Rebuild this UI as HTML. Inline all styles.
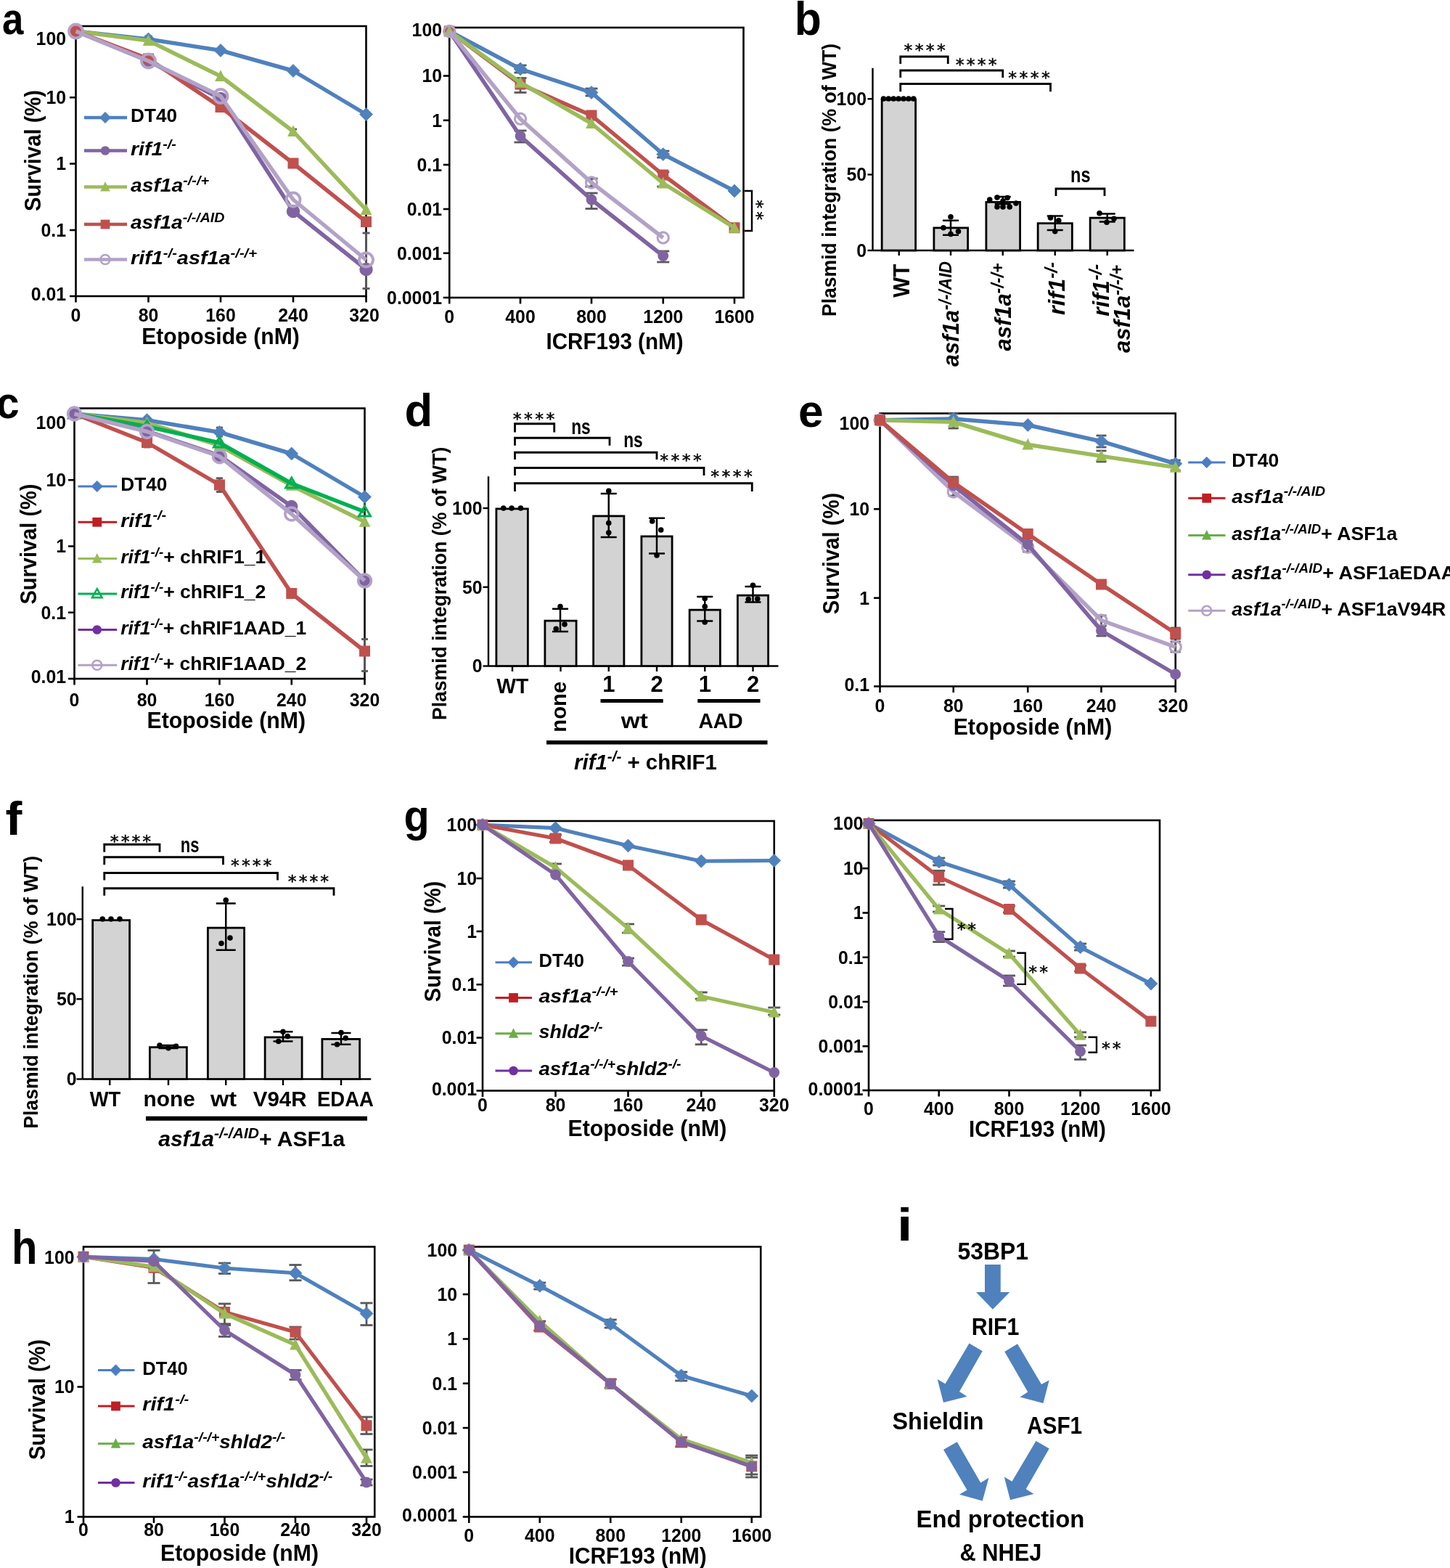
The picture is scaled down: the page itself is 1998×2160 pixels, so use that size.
<!DOCTYPE html>
<html><head><meta charset="utf-8"><title>Figure</title>
<style>html,body{margin:0;padding:0;background:#fff;overflow:hidden}svg{display:block}
</style></head>
<body>
<svg xmlns="http://www.w3.org/2000/svg" width="1998" height="2160" viewBox="0 0 1998 2160" font-family="'Liberation Sans', Arial, sans-serif">
<rect width="1998" height="2160" fill="#fff"/>
<g transform="translate(2.9 47) scale(0.86 1)"><text x="0" y="0" font-size="61.4" text-anchor="start" font-weight="bold" font-style="normal" fill="#000">a</text></g>
<rect x="104.5" y="36" width="400" height="372" fill="none" stroke="#000" stroke-width="2.6"/>
<line x1="96" y1="43" x2="104.5" y2="43" stroke="#000" stroke-width="2.6" stroke-linecap="butt"/>
<g transform="translate(91 61.84) scale(0.94 1)"><text x="0" y="0" font-size="26.4" text-anchor="end" font-weight="bold" font-style="normal" fill="#000">100</text></g>
<line x1="96" y1="134.25" x2="104.5" y2="134.25" stroke="#000" stroke-width="2.6" stroke-linecap="butt"/>
<g transform="translate(91 143.09) scale(0.94 1)"><text x="0" y="0" font-size="26.4" text-anchor="end" font-weight="bold" font-style="normal" fill="#000">10</text></g>
<line x1="96" y1="225.5" x2="104.5" y2="225.5" stroke="#000" stroke-width="2.6" stroke-linecap="butt"/>
<g transform="translate(91 234.34) scale(0.94 1)"><text x="0" y="0" font-size="26.4" text-anchor="end" font-weight="bold" font-style="normal" fill="#000">1</text></g>
<line x1="96" y1="317" x2="104.5" y2="317" stroke="#000" stroke-width="2.6" stroke-linecap="butt"/>
<g transform="translate(91 325.84) scale(0.94 1)"><text x="0" y="0" font-size="26.4" text-anchor="end" font-weight="bold" font-style="normal" fill="#000">0.1</text></g>
<line x1="96" y1="408" x2="104.5" y2="408" stroke="#000" stroke-width="2.6" stroke-linecap="butt"/>
<g transform="translate(91 414.34) scale(0.94 1)"><text x="0" y="0" font-size="26.4" text-anchor="end" font-weight="bold" font-style="normal" fill="#000">0.01</text></g>
<line x1="104.5" y1="408" x2="104.5" y2="416.5" stroke="#000" stroke-width="2.6" stroke-linecap="butt"/>
<g transform="translate(104.5 443.24) scale(0.94 1)"><text x="0" y="0" font-size="26.4" text-anchor="middle" font-weight="bold" font-style="normal" fill="#000">0</text></g>
<line x1="204.5" y1="408" x2="204.5" y2="416.5" stroke="#000" stroke-width="2.6" stroke-linecap="butt"/>
<g transform="translate(204.5 443.24) scale(0.94 1)"><text x="0" y="0" font-size="26.4" text-anchor="middle" font-weight="bold" font-style="normal" fill="#000">80</text></g>
<line x1="304" y1="408" x2="304" y2="416.5" stroke="#000" stroke-width="2.6" stroke-linecap="butt"/>
<g transform="translate(304 443.24) scale(0.94 1)"><text x="0" y="0" font-size="26.4" text-anchor="middle" font-weight="bold" font-style="normal" fill="#000">160</text></g>
<line x1="404" y1="408" x2="404" y2="416.5" stroke="#000" stroke-width="2.6" stroke-linecap="butt"/>
<g transform="translate(404 443.24) scale(0.94 1)"><text x="0" y="0" font-size="26.4" text-anchor="middle" font-weight="bold" font-style="normal" fill="#000">240</text></g>
<line x1="504.5" y1="408" x2="504.5" y2="416.5" stroke="#000" stroke-width="2.6" stroke-linecap="butt"/>
<g transform="translate(502 443.24) scale(0.94 1)"><text x="0" y="0" font-size="26.4" text-anchor="middle" font-weight="bold" font-style="normal" fill="#000">320</text></g>
<line x1="504.5" y1="321" x2="504.5" y2="397.5" stroke="#595959" stroke-width="2.8" stroke-linecap="butt"/>
<line x1="499.5" y1="321" x2="509.5" y2="321" stroke="#595959" stroke-width="2.8" stroke-linecap="butt"/>
<line x1="499.5" y1="397.5" x2="509.5" y2="397.5" stroke="#595959" stroke-width="2.8" stroke-linecap="butt"/>
<line x1="304" y1="130" x2="304" y2="150" stroke="#595959" stroke-width="2.8" stroke-linecap="butt"/>
<line x1="299" y1="130" x2="309" y2="130" stroke="#595959" stroke-width="2.8" stroke-linecap="butt"/>
<line x1="299" y1="150" x2="309" y2="150" stroke="#595959" stroke-width="2.8" stroke-linecap="butt"/>
<line x1="404" y1="178" x2="404" y2="186" stroke="#595959" stroke-width="2.8" stroke-linecap="butt"/>
<line x1="399" y1="178" x2="409" y2="178" stroke="#595959" stroke-width="2.8" stroke-linecap="butt"/>
<line x1="399" y1="186" x2="409" y2="186" stroke="#595959" stroke-width="2.8" stroke-linecap="butt"/>
<line x1="204.5" y1="50" x2="204.5" y2="58" stroke="#595959" stroke-width="2.8" stroke-linecap="butt"/>
<line x1="199.5" y1="50" x2="209.5" y2="50" stroke="#595959" stroke-width="2.8" stroke-linecap="butt"/>
<line x1="199.5" y1="58" x2="209.5" y2="58" stroke="#595959" stroke-width="2.8" stroke-linecap="butt"/>
<polyline points="104.5,43 204.5,54 304,69.5 404,97.5 504.5,157.5" fill="none" stroke="#4F81BD" stroke-width="5.5" stroke-linejoin="round"/>
<polygon points="104.5,34 113.5,43 104.5,52 95.5,43" fill="#4F81BD" stroke="#4F81BD" stroke-width="0.8" stroke-linejoin="round"/>
<polygon points="204.5,45 213.5,54 204.5,63 195.5,54" fill="#4F81BD" stroke="#4F81BD" stroke-width="0.8" stroke-linejoin="round"/>
<polygon points="304,60.5 313,69.5 304,78.5 295,69.5" fill="#4F81BD" stroke="#4F81BD" stroke-width="0.8" stroke-linejoin="round"/>
<polygon points="404,88.5 413,97.5 404,106.5 395,97.5" fill="#4F81BD" stroke="#4F81BD" stroke-width="0.8" stroke-linejoin="round"/>
<polygon points="504.5,148.5 513.5,157.5 504.5,166.5 495.5,157.5" fill="#4F81BD" stroke="#4F81BD" stroke-width="0.8" stroke-linejoin="round"/>
<polyline points="104.5,43 204.5,84 304,136 404,291 504.5,371" fill="none" stroke="#8064A2" stroke-width="5.5" stroke-linejoin="round"/>
<circle cx="104.5" cy="43" r="9.25" fill="#8064A2"/>
<circle cx="204.5" cy="84" r="9.25" fill="#8064A2"/>
<circle cx="304" cy="136" r="9.25" fill="#8064A2"/>
<circle cx="404" cy="291" r="9.25" fill="#8064A2"/>
<circle cx="504.5" cy="371" r="9.25" fill="#8064A2"/>
<polyline points="104.5,43 204.5,56 304,105 404,181 504.5,289" fill="none" stroke="#9BBB59" stroke-width="5.5" stroke-linejoin="round"/>
<polygon points="104.5,34.31 112.4,49.95 96.6,49.95" fill="#9BBB59"/>
<polygon points="204.5,47.31 212.4,62.95 196.6,62.95" fill="#9BBB59"/>
<polygon points="304,96.31 311.9,111.95 296.1,111.95" fill="#9BBB59"/>
<polygon points="404,172.31 411.9,187.95 396.1,187.95" fill="#9BBB59"/>
<polygon points="504.5,280.31 512.4,295.95 496.6,295.95" fill="#9BBB59"/>
<polyline points="104.5,43 204.5,81 304,147.5 404,225 504.5,305.5" fill="none" stroke="#C0504D" stroke-width="5.5" stroke-linejoin="round"/>
<rect x="97" y="35.5" width="15" height="15" fill="#C0504D"/>
<rect x="197" y="73.5" width="15" height="15" fill="#C0504D"/>
<rect x="296.5" y="140" width="15" height="15" fill="#C0504D"/>
<rect x="396.5" y="217.5" width="15" height="15" fill="#C0504D"/>
<rect x="497" y="298" width="15" height="15" fill="#C0504D"/>
<polyline points="104.5,43 204.5,84 304,132.5 404,275 504.5,358" fill="none" stroke="#B3A2C7" stroke-width="5.5" stroke-linejoin="round"/>
<circle cx="104.5" cy="43" r="9.5" fill="none" stroke="#B3A2C7" stroke-width="3.88"/>
<circle cx="204.5" cy="84" r="9.5" fill="none" stroke="#B3A2C7" stroke-width="3.88"/>
<circle cx="304" cy="132.5" r="9.5" fill="none" stroke="#B3A2C7" stroke-width="3.88"/>
<circle cx="404" cy="275" r="9.5" fill="none" stroke="#B3A2C7" stroke-width="3.88"/>
<circle cx="504.5" cy="358" r="9.5" fill="none" stroke="#B3A2C7" stroke-width="3.88"/>
<line x1="116" y1="162" x2="175" y2="162" stroke="#4F81BD" stroke-width="4.5" stroke-linecap="butt"/>
<polygon points="145,154.35 152.65,162 145,169.65 137.35,162" fill="#4F81BD" stroke="#4F81BD" stroke-width="0.68" stroke-linejoin="round"/>
<text x="180" y="168.25" font-size="25" text-anchor="start" font-weight="bold" font-style="normal" fill="#000" textLength="64" lengthAdjust="spacingAndGlyphs">DT40</text>
<line x1="116" y1="207.5" x2="175" y2="207.5" stroke="#8064A2" stroke-width="4.5" stroke-linecap="butt"/>
<circle cx="145" cy="207.5" r="6.29" fill="#8064A2"/>
<text x="180" y="213.75" font-size="25" text-anchor="start" font-weight="bold" font-style="normal" fill="#000" textLength="63" lengthAdjust="spacingAndGlyphs"><tspan font-style="italic">rif1</tspan><tspan font-style="italic" font-size="17.5" dy="-9.25">-/-</tspan></text>
<line x1="116" y1="257.5" x2="175" y2="257.5" stroke="#9BBB59" stroke-width="4.5" stroke-linecap="butt"/>
<polygon points="145,250.11 151.72,263.41 138.28,263.41" fill="#9BBB59"/>
<text x="180" y="263.75" font-size="25" text-anchor="start" font-weight="bold" font-style="normal" fill="#000" textLength="108" lengthAdjust="spacingAndGlyphs"><tspan font-style="italic">asf1a</tspan><tspan font-style="italic" font-size="17.5" dy="-9.25">-/-/+</tspan></text>
<line x1="116" y1="309" x2="175" y2="309" stroke="#C0504D" stroke-width="4.5" stroke-linecap="butt"/>
<rect x="138.62" y="302.62" width="12.75" height="12.75" fill="#C0504D"/>
<text x="180" y="315.25" font-size="25" text-anchor="start" font-weight="bold" font-style="normal" fill="#000" textLength="129.5" lengthAdjust="spacingAndGlyphs"><tspan font-style="italic">asf1a</tspan><tspan font-style="italic" font-size="17.5" dy="-9.25">-/-/AID</tspan></text>
<line x1="116" y1="357.5" x2="175" y2="357.5" stroke="#B3A2C7" stroke-width="4.5" stroke-linecap="butt"/>
<circle cx="145" cy="357.5" r="6.46" fill="none" stroke="#B3A2C7" stroke-width="2.63"/>
<text x="180" y="363.75" font-size="25" text-anchor="start" font-weight="bold" font-style="normal" fill="#000" textLength="174" lengthAdjust="spacingAndGlyphs"><tspan font-style="italic">rif1</tspan><tspan font-style="italic" font-size="17.5" dy="-9.25">-/-</tspan><tspan font-style="italic" dy="9.25">asf1a</tspan><tspan font-style="italic" font-size="17.5" dy="-9.25">-/-/+</tspan></text>
<text x="304" y="474" font-size="32" text-anchor="middle" font-weight="bold" font-style="normal" fill="#000" textLength="217.5" lengthAdjust="spacingAndGlyphs">Etoposide (nM)</text>
<text x="56" y="207.5" font-size="32" text-anchor="middle" font-weight="bold" font-style="normal" fill="#000" textLength="167" lengthAdjust="spacingAndGlyphs" transform="rotate(-90 56 207.5)">Survival (%)</text>
<rect x="619.25" y="38" width="405.25" height="372" fill="none" stroke="#000" stroke-width="2.6"/>
<line x1="610.75" y1="43.3" x2="619.25" y2="43.3" stroke="#000" stroke-width="2.6" stroke-linecap="butt"/>
<g transform="translate(609 49.84) scale(0.94 1)"><text x="0" y="0" font-size="26.4" text-anchor="end" font-weight="bold" font-style="normal" fill="#000">100</text></g>
<line x1="610.75" y1="104.5" x2="619.25" y2="104.5" stroke="#000" stroke-width="2.6" stroke-linecap="butt"/>
<g transform="translate(609 113.34) scale(0.94 1)"><text x="0" y="0" font-size="26.4" text-anchor="end" font-weight="bold" font-style="normal" fill="#000">10</text></g>
<line x1="610.75" y1="165.75" x2="619.25" y2="165.75" stroke="#000" stroke-width="2.6" stroke-linecap="butt"/>
<g transform="translate(609 174.59) scale(0.94 1)"><text x="0" y="0" font-size="26.4" text-anchor="end" font-weight="bold" font-style="normal" fill="#000">1</text></g>
<line x1="610.75" y1="227" x2="619.25" y2="227" stroke="#000" stroke-width="2.6" stroke-linecap="butt"/>
<g transform="translate(609 235.84) scale(0.94 1)"><text x="0" y="0" font-size="26.4" text-anchor="end" font-weight="bold" font-style="normal" fill="#000">0.1</text></g>
<line x1="610.75" y1="288" x2="619.25" y2="288" stroke="#000" stroke-width="2.6" stroke-linecap="butt"/>
<g transform="translate(609 296.84) scale(0.94 1)"><text x="0" y="0" font-size="26.4" text-anchor="end" font-weight="bold" font-style="normal" fill="#000">0.01</text></g>
<line x1="610.75" y1="348.75" x2="619.25" y2="348.75" stroke="#000" stroke-width="2.6" stroke-linecap="butt"/>
<g transform="translate(609 357.59) scale(0.94 1)"><text x="0" y="0" font-size="26.4" text-anchor="end" font-weight="bold" font-style="normal" fill="#000">0.001</text></g>
<line x1="610.75" y1="410" x2="619.25" y2="410" stroke="#000" stroke-width="2.6" stroke-linecap="butt"/>
<g transform="translate(609 418.84) scale(0.94 1)"><text x="0" y="0" font-size="26.4" text-anchor="end" font-weight="bold" font-style="normal" fill="#000">0.0001</text></g>
<line x1="619.25" y1="410" x2="619.25" y2="418.5" stroke="#000" stroke-width="2.6" stroke-linecap="butt"/>
<g transform="translate(619.25 444.84) scale(0.94 1)"><text x="0" y="0" font-size="26.4" text-anchor="middle" font-weight="bold" font-style="normal" fill="#000">0</text></g>
<line x1="717" y1="410" x2="717" y2="418.5" stroke="#000" stroke-width="2.6" stroke-linecap="butt"/>
<g transform="translate(717 444.84) scale(0.94 1)"><text x="0" y="0" font-size="26.4" text-anchor="middle" font-weight="bold" font-style="normal" fill="#000">400</text></g>
<line x1="815" y1="410" x2="815" y2="418.5" stroke="#000" stroke-width="2.6" stroke-linecap="butt"/>
<g transform="translate(815 444.84) scale(0.94 1)"><text x="0" y="0" font-size="26.4" text-anchor="middle" font-weight="bold" font-style="normal" fill="#000">800</text></g>
<line x1="913.75" y1="410" x2="913.75" y2="418.5" stroke="#000" stroke-width="2.6" stroke-linecap="butt"/>
<g transform="translate(913.75 444.84) scale(0.94 1)"><text x="0" y="0" font-size="26.4" text-anchor="middle" font-weight="bold" font-style="normal" fill="#000">1200</text></g>
<line x1="1012" y1="410" x2="1012" y2="418.5" stroke="#000" stroke-width="2.6" stroke-linecap="butt"/>
<g transform="translate(1012 444.84) scale(0.94 1)"><text x="0" y="0" font-size="26.4" text-anchor="middle" font-weight="bold" font-style="normal" fill="#000">1600</text></g>
<line x1="717" y1="180" x2="717" y2="196" stroke="#595959" stroke-width="2.8" stroke-linecap="butt"/>
<line x1="708.5" y1="180" x2="725.5" y2="180" stroke="#595959" stroke-width="2.8" stroke-linecap="butt"/>
<line x1="708.5" y1="196" x2="725.5" y2="196" stroke="#595959" stroke-width="2.8" stroke-linecap="butt"/>
<line x1="815" y1="266" x2="815" y2="287.5" stroke="#595959" stroke-width="2.8" stroke-linecap="butt"/>
<line x1="806.5" y1="266" x2="823.5" y2="266" stroke="#595959" stroke-width="2.8" stroke-linecap="butt"/>
<line x1="806.5" y1="287.5" x2="823.5" y2="287.5" stroke="#595959" stroke-width="2.8" stroke-linecap="butt"/>
<line x1="913.75" y1="346" x2="913.75" y2="361" stroke="#595959" stroke-width="2.8" stroke-linecap="butt"/>
<line x1="905.25" y1="346" x2="922.25" y2="346" stroke="#595959" stroke-width="2.8" stroke-linecap="butt"/>
<line x1="905.25" y1="361" x2="922.25" y2="361" stroke="#595959" stroke-width="2.8" stroke-linecap="butt"/>
<line x1="717" y1="107.5" x2="717" y2="127.5" stroke="#595959" stroke-width="2.8" stroke-linecap="butt"/>
<line x1="708.5" y1="107.5" x2="725.5" y2="107.5" stroke="#595959" stroke-width="2.8" stroke-linecap="butt"/>
<line x1="708.5" y1="127.5" x2="725.5" y2="127.5" stroke="#595959" stroke-width="2.8" stroke-linecap="butt"/>
<line x1="717" y1="90" x2="717" y2="100" stroke="#595959" stroke-width="2.8" stroke-linecap="butt"/>
<line x1="708.5" y1="90" x2="725.5" y2="90" stroke="#595959" stroke-width="2.8" stroke-linecap="butt"/>
<line x1="708.5" y1="100" x2="725.5" y2="100" stroke="#595959" stroke-width="2.8" stroke-linecap="butt"/>
<line x1="815" y1="246" x2="815" y2="257" stroke="#595959" stroke-width="2.8" stroke-linecap="butt"/>
<line x1="806.5" y1="246" x2="823.5" y2="246" stroke="#595959" stroke-width="2.8" stroke-linecap="butt"/>
<line x1="806.5" y1="257" x2="823.5" y2="257" stroke="#595959" stroke-width="2.8" stroke-linecap="butt"/>
<line x1="815" y1="122" x2="815" y2="132" stroke="#595959" stroke-width="2.8" stroke-linecap="butt"/>
<line x1="806.5" y1="122" x2="823.5" y2="122" stroke="#595959" stroke-width="2.8" stroke-linecap="butt"/>
<line x1="806.5" y1="132" x2="823.5" y2="132" stroke="#595959" stroke-width="2.8" stroke-linecap="butt"/>
<line x1="913.75" y1="208" x2="913.75" y2="217" stroke="#595959" stroke-width="2.8" stroke-linecap="butt"/>
<line x1="905.25" y1="208" x2="922.25" y2="208" stroke="#595959" stroke-width="2.8" stroke-linecap="butt"/>
<line x1="905.25" y1="217" x2="922.25" y2="217" stroke="#595959" stroke-width="2.8" stroke-linecap="butt"/>
<line x1="913.75" y1="237" x2="913.75" y2="257" stroke="#595959" stroke-width="2.8" stroke-linecap="butt"/>
<line x1="905.25" y1="237" x2="922.25" y2="237" stroke="#595959" stroke-width="2.8" stroke-linecap="butt"/>
<line x1="905.25" y1="257" x2="922.25" y2="257" stroke="#595959" stroke-width="2.8" stroke-linecap="butt"/>
<polyline points="619.25,43 717,95 815,127.5 913.75,212.5 1012,263" fill="none" stroke="#4F81BD" stroke-width="5.5" stroke-linejoin="round"/>
<polygon points="619.25,34 628.25,43 619.25,52 610.25,43" fill="#4F81BD" stroke="#4F81BD" stroke-width="0.8" stroke-linejoin="round"/>
<polygon points="717,86 726,95 717,104 708,95" fill="#4F81BD" stroke="#4F81BD" stroke-width="0.8" stroke-linejoin="round"/>
<polygon points="815,118.5 824,127.5 815,136.5 806,127.5" fill="#4F81BD" stroke="#4F81BD" stroke-width="0.8" stroke-linejoin="round"/>
<polygon points="913.75,203.5 922.75,212.5 913.75,221.5 904.75,212.5" fill="#4F81BD" stroke="#4F81BD" stroke-width="0.8" stroke-linejoin="round"/>
<polygon points="1012,254 1021,263 1012,272 1003,263" fill="#4F81BD" stroke="#4F81BD" stroke-width="0.8" stroke-linejoin="round"/>
<polyline points="619.25,43 717,187.5 815,275 913.75,352.5" fill="none" stroke="#8064A2" stroke-width="5.5" stroke-linejoin="round"/>
<circle cx="619.25" cy="43" r="7.4" fill="#8064A2"/>
<circle cx="717" cy="187.5" r="7.4" fill="#8064A2"/>
<circle cx="815" cy="275" r="7.4" fill="#8064A2"/>
<circle cx="913.75" cy="352.5" r="7.4" fill="#8064A2"/>
<polyline points="619.25,43 717,116 815,159 913.75,241 1012,313.75" fill="none" stroke="#C0504D" stroke-width="5.5" stroke-linejoin="round"/>
<rect x="611.75" y="35.5" width="15" height="15" fill="#C0504D"/>
<rect x="709.5" y="108.5" width="15" height="15" fill="#C0504D"/>
<rect x="807.5" y="151.5" width="15" height="15" fill="#C0504D"/>
<rect x="906.25" y="233.5" width="15" height="15" fill="#C0504D"/>
<rect x="1004.5" y="306.25" width="15" height="15" fill="#C0504D"/>
<polyline points="619.25,43 717,113.75 815,170 913.75,252.5 1012,313.75" fill="none" stroke="#9BBB59" stroke-width="5.5" stroke-linejoin="round"/>
<polygon points="619.25,34.31 627.15,49.95 611.35,49.95" fill="#9BBB59"/>
<polygon points="717,105.06 724.9,120.7 709.1,120.7" fill="#9BBB59"/>
<polygon points="815,161.31 822.9,176.95 807.1,176.95" fill="#9BBB59"/>
<polygon points="913.75,243.81 921.65,259.45 905.85,259.45" fill="#9BBB59"/>
<polygon points="1012,305.06 1019.9,320.7 1004.1,320.7" fill="#9BBB59"/>
<polyline points="619.25,43 717,163.75 815,251.5 913.75,327.5" fill="none" stroke="#B3A2C7" stroke-width="5.5" stroke-linejoin="round"/>
<circle cx="619.25" cy="43" r="7.6" fill="none" stroke="#B3A2C7" stroke-width="3.1"/>
<circle cx="717" cy="163.75" r="7.6" fill="none" stroke="#B3A2C7" stroke-width="3.1"/>
<circle cx="815" cy="251.5" r="7.6" fill="none" stroke="#B3A2C7" stroke-width="3.1"/>
<circle cx="913.75" cy="327.5" r="7.6" fill="none" stroke="#B3A2C7" stroke-width="3.1"/>
<polyline points="1026,263 1036,263 1036,318 1026,318" fill="none" stroke="#000" stroke-width="2.4" stroke-linejoin="miter"/>
<g transform="translate(1035.31 275.29) rotate(90)"><text x="0" y="0" font-size="23.7" font-family="DejaVu Sans, sans-serif" font-weight="normal" letter-spacing="4.22" stroke="#000" stroke-width="0.45">**</text></g>
<text x="752.5" y="481" font-size="32" text-anchor="start" font-weight="bold" font-style="normal" fill="#000" textLength="189" lengthAdjust="spacingAndGlyphs">ICRF193 (nM)</text>
<g transform="translate(1094.8 47.5) scale(0.93 1)"><text x="0" y="0" font-size="65.3" text-anchor="start" font-weight="bold" font-style="normal" fill="#000">b</text></g>
<line x1="1202.5" y1="93.75" x2="1202.5" y2="345" stroke="#000" stroke-width="2.4" stroke-linecap="butt"/>
<line x1="1202.5" y1="345" x2="1562.5" y2="345" stroke="#000" stroke-width="2.4" stroke-linecap="butt"/>
<line x1="1195.5" y1="136.25" x2="1202.5" y2="136.25" stroke="#000" stroke-width="2.4" stroke-linecap="butt"/>
<g transform="translate(1194 145.09) scale(0.94 1)"><text x="0" y="0" font-size="26.4" text-anchor="end" font-weight="bold" font-style="normal" fill="#000">100</text></g>
<line x1="1195.5" y1="240.5" x2="1202.5" y2="240.5" stroke="#000" stroke-width="2.4" stroke-linecap="butt"/>
<g transform="translate(1194 249.34) scale(0.94 1)"><text x="0" y="0" font-size="26.4" text-anchor="end" font-weight="bold" font-style="normal" fill="#000">50</text></g>
<line x1="1195.5" y1="345" x2="1202.5" y2="345" stroke="#000" stroke-width="2.4" stroke-linecap="butt"/>
<g transform="translate(1194 353.84) scale(0.94 1)"><text x="0" y="0" font-size="26.4" text-anchor="end" font-weight="bold" font-style="normal" fill="#000">0</text></g>
<rect x="1215.15" y="137.15" width="46.45" height="207.85" fill="#D3D3D3" stroke="#000" stroke-width="2.8"/>
<rect x="1286.9" y="313.9" width="46.7" height="31.1" fill="#D3D3D3" stroke="#000" stroke-width="2.8"/>
<rect x="1358.9" y="278.4" width="46.7" height="66.6" fill="#D3D3D3" stroke="#000" stroke-width="2.8"/>
<rect x="1430.15" y="307.65" width="47.2" height="37.35" fill="#D3D3D3" stroke="#000" stroke-width="2.8"/>
<rect x="1502.15" y="300.15" width="47.2" height="44.85" fill="#D3D3D3" stroke="#000" stroke-width="2.8"/>
<line x1="1238.75" y1="345" x2="1238.75" y2="352" stroke="#000" stroke-width="2.4" stroke-linecap="butt"/>
<line x1="1310" y1="345" x2="1310" y2="352" stroke="#000" stroke-width="2.4" stroke-linecap="butt"/>
<line x1="1381.75" y1="345" x2="1381.75" y2="352" stroke="#000" stroke-width="2.4" stroke-linecap="butt"/>
<line x1="1453.75" y1="345" x2="1453.75" y2="352" stroke="#000" stroke-width="2.4" stroke-linecap="butt"/>
<line x1="1525.75" y1="345" x2="1525.75" y2="352" stroke="#000" stroke-width="2.4" stroke-linecap="butt"/>
<line x1="1310" y1="303.75" x2="1310" y2="323.75" stroke="#000" stroke-width="2.5" stroke-linecap="butt"/>
<line x1="1299" y1="303.75" x2="1321" y2="303.75" stroke="#000" stroke-width="2.5" stroke-linecap="butt"/>
<line x1="1299" y1="323.75" x2="1321" y2="323.75" stroke="#000" stroke-width="2.5" stroke-linecap="butt"/>
<line x1="1381.75" y1="271" x2="1381.75" y2="281" stroke="#000" stroke-width="2.5" stroke-linecap="butt"/>
<line x1="1370.75" y1="271" x2="1392.75" y2="271" stroke="#000" stroke-width="2.5" stroke-linecap="butt"/>
<line x1="1370.75" y1="281" x2="1392.75" y2="281" stroke="#000" stroke-width="2.5" stroke-linecap="butt"/>
<line x1="1453.75" y1="297.5" x2="1453.75" y2="317" stroke="#000" stroke-width="2.5" stroke-linecap="butt"/>
<line x1="1442.75" y1="297.5" x2="1464.75" y2="297.5" stroke="#000" stroke-width="2.5" stroke-linecap="butt"/>
<line x1="1442.75" y1="317" x2="1464.75" y2="317" stroke="#000" stroke-width="2.5" stroke-linecap="butt"/>
<line x1="1525.75" y1="294.5" x2="1525.75" y2="305.5" stroke="#000" stroke-width="2.5" stroke-linecap="butt"/>
<line x1="1514.75" y1="294.5" x2="1536.75" y2="294.5" stroke="#000" stroke-width="2.5" stroke-linecap="butt"/>
<line x1="1514.75" y1="305.5" x2="1536.75" y2="305.5" stroke="#000" stroke-width="2.5" stroke-linecap="butt"/>
<circle cx="1217.5" cy="136" r="3.8" fill="#000"/>
<circle cx="1224.38" cy="136" r="3.8" fill="#000"/>
<circle cx="1231.25" cy="136" r="3.8" fill="#000"/>
<circle cx="1238.12" cy="136" r="3.8" fill="#000"/>
<circle cx="1245" cy="136" r="3.8" fill="#000"/>
<circle cx="1251.88" cy="136" r="3.8" fill="#000"/>
<circle cx="1258.75" cy="136" r="3.8" fill="#000"/>
<circle cx="1310" cy="298.75" r="3.8" fill="#000"/>
<circle cx="1300" cy="313.75" r="3.8" fill="#000"/>
<circle cx="1320.5" cy="318.75" r="3.8" fill="#000"/>
<circle cx="1310" cy="322.5" r="3.8" fill="#000"/>
<circle cx="1363.75" cy="275" r="3.8" fill="#000"/>
<circle cx="1374" cy="285" r="3.8" fill="#000"/>
<circle cx="1382" cy="277" r="3.8" fill="#000"/>
<circle cx="1388" cy="272.5" r="3.8" fill="#000"/>
<circle cx="1374" cy="272" r="3.8" fill="#000"/>
<circle cx="1382" cy="285" r="3.8" fill="#000"/>
<circle cx="1391.25" cy="285" r="3.8" fill="#000"/>
<circle cx="1400" cy="280" r="3.8" fill="#000"/>
<circle cx="1447.5" cy="300" r="3.8" fill="#000"/>
<circle cx="1458.75" cy="303.75" r="3.8" fill="#000"/>
<circle cx="1453.75" cy="318.75" r="3.8" fill="#000"/>
<circle cx="1515" cy="293.75" r="3.8" fill="#000"/>
<circle cx="1535" cy="301.25" r="3.8" fill="#000"/>
<circle cx="1525" cy="306.25" r="3.8" fill="#000"/>
<polyline points="1240.75,88 1240.75,78 1306.25,78 1306.25,88" fill="none" stroke="#000" stroke-width="2.8" stroke-linejoin="miter"/>
<text x="1245.49" y="76.69" font-size="23.7" font-family="DejaVu Sans, sans-serif" font-weight="normal" letter-spacing="3.34" stroke="#000" stroke-width="0.45">****</text>
<polyline points="1240.75,107 1240.75,97 1381.75,97 1381.75,107" fill="none" stroke="#000" stroke-width="2.8" stroke-linejoin="miter"/>
<text x="1316.79" y="96.79" font-size="23.7" font-family="DejaVu Sans, sans-serif" font-weight="normal" letter-spacing="3.17" stroke="#000" stroke-width="0.45">****</text>
<polyline points="1240.75,126.25 1240.75,115.5 1447.5,115.5 1447.5,126.25" fill="none" stroke="#000" stroke-width="2.8" stroke-linejoin="miter"/>
<text x="1389.29" y="115.19" font-size="23.7" font-family="DejaVu Sans, sans-serif" font-weight="normal" letter-spacing="3.42" stroke="#000" stroke-width="0.45">****</text>
<polyline points="1455,270 1455,260 1522,260 1522,270" fill="none" stroke="#000" stroke-width="2.8" stroke-linejoin="miter"/>
<text x="1488.75" y="251.25" font-size="29" text-anchor="middle" font-weight="bold" font-style="normal" fill="#000" textLength="27.5" lengthAdjust="spacingAndGlyphs">ns</text>
<text x="1151.8" y="248" font-size="27.8" text-anchor="middle" font-weight="bold" font-style="normal" fill="#000" textLength="376" lengthAdjust="spacingAndGlyphs" transform="rotate(-90 1151.8 248)">Plasmid integration (% of WT)</text>
<text x="1252.5" y="363.75" font-size="31" text-anchor="end" font-weight="bold" font-style="normal" fill="#000" textLength="46" lengthAdjust="spacingAndGlyphs" transform="rotate(-90 1252.5 363.75)">WT</text>
<text x="1320.5" y="360" font-size="31" text-anchor="end" font-weight="bold" font-style="normal" fill="#000" textLength="145" lengthAdjust="spacingAndGlyphs" transform="rotate(-90 1320.5 360)"><tspan font-style="italic">asf1a</tspan><tspan font-style="italic" font-size="23.25" dy="-9.61">-/-/AID</tspan></text>
<text x="1393" y="362.5" font-size="31" text-anchor="end" font-weight="bold" font-style="normal" fill="#000" textLength="121" lengthAdjust="spacingAndGlyphs" transform="rotate(-90 1393 362.5)"><tspan font-style="italic">asf1a</tspan><tspan font-style="italic" font-size="23.25" dy="-9.61">-/-/+</tspan></text>
<text x="1466.5" y="361" font-size="31" text-anchor="end" font-weight="bold" font-style="normal" fill="#000" textLength="73" lengthAdjust="spacingAndGlyphs" transform="rotate(-90 1466.5 361)"><tspan font-style="italic">rif1</tspan><tspan font-style="italic" font-size="23.25" dy="-9.61">-/-</tspan></text>
<text x="1528" y="363.75" font-size="31" text-anchor="end" font-weight="bold" font-style="normal" fill="#000" textLength="72" lengthAdjust="spacingAndGlyphs" transform="rotate(-90 1528 363.75)"><tspan font-style="italic">rif1</tspan><tspan font-style="italic" font-size="23.25" dy="-9.61">-/-</tspan></text>
<text x="1557" y="365" font-size="31" text-anchor="end" font-weight="bold" font-style="normal" fill="#000" textLength="121" lengthAdjust="spacingAndGlyphs" transform="rotate(-90 1557 365)"><tspan font-style="italic">asf1a</tspan><tspan font-style="italic" font-size="23.25" dy="-9.61">-/-/+</tspan></text>
<g transform="translate(-5.3 575.5) scale(0.93 1)"><text x="0" y="0" font-size="61.6" text-anchor="start" font-weight="bold" font-style="normal" fill="#000">c</text></g>
<rect x="102.5" y="562.5" width="400" height="372.5" fill="none" stroke="#000" stroke-width="2.6"/>
<line x1="94" y1="570" x2="102.5" y2="570" stroke="#000" stroke-width="2.6" stroke-linecap="butt"/>
<g transform="translate(91 591.34) scale(0.94 1)"><text x="0" y="0" font-size="26.4" text-anchor="end" font-weight="bold" font-style="normal" fill="#000">100</text></g>
<line x1="94" y1="661.25" x2="102.5" y2="661.25" stroke="#000" stroke-width="2.6" stroke-linecap="butt"/>
<g transform="translate(91 670.09) scale(0.94 1)"><text x="0" y="0" font-size="26.4" text-anchor="end" font-weight="bold" font-style="normal" fill="#000">10</text></g>
<line x1="94" y1="752.5" x2="102.5" y2="752.5" stroke="#000" stroke-width="2.6" stroke-linecap="butt"/>
<g transform="translate(91 761.34) scale(0.94 1)"><text x="0" y="0" font-size="26.4" text-anchor="end" font-weight="bold" font-style="normal" fill="#000">1</text></g>
<line x1="94" y1="843.75" x2="102.5" y2="843.75" stroke="#000" stroke-width="2.6" stroke-linecap="butt"/>
<g transform="translate(91 852.59) scale(0.94 1)"><text x="0" y="0" font-size="26.4" text-anchor="end" font-weight="bold" font-style="normal" fill="#000">0.1</text></g>
<line x1="94" y1="935" x2="102.5" y2="935" stroke="#000" stroke-width="2.6" stroke-linecap="butt"/>
<g transform="translate(91 940.84) scale(0.94 1)"><text x="0" y="0" font-size="26.4" text-anchor="end" font-weight="bold" font-style="normal" fill="#000">0.01</text></g>
<line x1="102.5" y1="935" x2="102.5" y2="943.5" stroke="#000" stroke-width="2.6" stroke-linecap="butt"/>
<g transform="translate(102.5 972.59) scale(0.94 1)"><text x="0" y="0" font-size="26.4" text-anchor="middle" font-weight="bold" font-style="normal" fill="#000">0</text></g>
<line x1="202.5" y1="935" x2="202.5" y2="943.5" stroke="#000" stroke-width="2.6" stroke-linecap="butt"/>
<g transform="translate(202.5 972.59) scale(0.94 1)"><text x="0" y="0" font-size="26.4" text-anchor="middle" font-weight="bold" font-style="normal" fill="#000">80</text></g>
<line x1="302.5" y1="935" x2="302.5" y2="943.5" stroke="#000" stroke-width="2.6" stroke-linecap="butt"/>
<g transform="translate(302.5 972.59) scale(0.94 1)"><text x="0" y="0" font-size="26.4" text-anchor="middle" font-weight="bold" font-style="normal" fill="#000">160</text></g>
<line x1="401.75" y1="935" x2="401.75" y2="943.5" stroke="#000" stroke-width="2.6" stroke-linecap="butt"/>
<g transform="translate(401.75 972.59) scale(0.94 1)"><text x="0" y="0" font-size="26.4" text-anchor="middle" font-weight="bold" font-style="normal" fill="#000">240</text></g>
<line x1="502.5" y1="935" x2="502.5" y2="943.5" stroke="#000" stroke-width="2.6" stroke-linecap="butt"/>
<g transform="translate(502.5 972.59) scale(0.94 1)"><text x="0" y="0" font-size="26.4" text-anchor="middle" font-weight="bold" font-style="normal" fill="#000">320</text></g>
<line x1="502.5" y1="880.5" x2="502.5" y2="924.5" stroke="#595959" stroke-width="2.8" stroke-linecap="butt"/>
<line x1="498" y1="880.5" x2="507" y2="880.5" stroke="#595959" stroke-width="2.8" stroke-linecap="butt"/>
<line x1="498" y1="924.5" x2="507" y2="924.5" stroke="#595959" stroke-width="2.8" stroke-linecap="butt"/>
<line x1="302.5" y1="658.75" x2="302.5" y2="677.5" stroke="#595959" stroke-width="2.8" stroke-linecap="butt"/>
<line x1="298" y1="658.75" x2="307" y2="658.75" stroke="#595959" stroke-width="2.8" stroke-linecap="butt"/>
<line x1="298" y1="677.5" x2="307" y2="677.5" stroke="#595959" stroke-width="2.8" stroke-linecap="butt"/>
<line x1="302.5" y1="601" x2="302.5" y2="620" stroke="#595959" stroke-width="2.8" stroke-linecap="butt"/>
<line x1="298" y1="601" x2="307" y2="601" stroke="#595959" stroke-width="2.8" stroke-linecap="butt"/>
<line x1="298" y1="620" x2="307" y2="620" stroke="#595959" stroke-width="2.8" stroke-linecap="butt"/>
<line x1="202.5" y1="603" x2="202.5" y2="616" stroke="#595959" stroke-width="2.8" stroke-linecap="butt"/>
<line x1="198" y1="603" x2="207" y2="603" stroke="#595959" stroke-width="2.8" stroke-linecap="butt"/>
<line x1="198" y1="616" x2="207" y2="616" stroke="#595959" stroke-width="2.8" stroke-linecap="butt"/>
<line x1="202.5" y1="575" x2="202.5" y2="584" stroke="#595959" stroke-width="2.8" stroke-linecap="butt"/>
<line x1="198" y1="575" x2="207" y2="575" stroke="#595959" stroke-width="2.8" stroke-linecap="butt"/>
<line x1="198" y1="584" x2="207" y2="584" stroke="#595959" stroke-width="2.8" stroke-linecap="butt"/>
<line x1="302.5" y1="589" x2="302.5" y2="600" stroke="#595959" stroke-width="2.8" stroke-linecap="butt"/>
<line x1="298" y1="589" x2="307" y2="589" stroke="#595959" stroke-width="2.8" stroke-linecap="butt"/>
<line x1="298" y1="600" x2="307" y2="600" stroke="#595959" stroke-width="2.8" stroke-linecap="butt"/>
<line x1="502.5" y1="795" x2="502.5" y2="806" stroke="#595959" stroke-width="2.8" stroke-linecap="butt"/>
<line x1="498" y1="795" x2="507" y2="795" stroke="#595959" stroke-width="2.8" stroke-linecap="butt"/>
<line x1="498" y1="806" x2="507" y2="806" stroke="#595959" stroke-width="2.8" stroke-linecap="butt"/>
<polyline points="102.5,570 202.5,578.75 302.5,595.5 401.75,625 502.5,684.5" fill="none" stroke="#4F81BD" stroke-width="5.5" stroke-linejoin="round"/>
<polygon points="102.5,561 111.5,570 102.5,579 93.5,570" fill="#4F81BD" stroke="#4F81BD" stroke-width="0.8" stroke-linejoin="round"/>
<polygon points="202.5,569.75 211.5,578.75 202.5,587.75 193.5,578.75" fill="#4F81BD" stroke="#4F81BD" stroke-width="0.8" stroke-linejoin="round"/>
<polygon points="302.5,586.5 311.5,595.5 302.5,604.5 293.5,595.5" fill="#4F81BD" stroke="#4F81BD" stroke-width="0.8" stroke-linejoin="round"/>
<polygon points="401.75,616 410.75,625 401.75,634 392.75,625" fill="#4F81BD" stroke="#4F81BD" stroke-width="0.8" stroke-linejoin="round"/>
<polygon points="502.5,675.5 511.5,684.5 502.5,693.5 493.5,684.5" fill="#4F81BD" stroke="#4F81BD" stroke-width="0.8" stroke-linejoin="round"/>
<polyline points="102.5,570 202.5,609.5 302.5,668 401.75,817.5 502.5,897" fill="none" stroke="#C0504D" stroke-width="5.5" stroke-linejoin="round"/>
<rect x="95" y="562.5" width="15" height="15" fill="#C0504D"/>
<rect x="195" y="602" width="15" height="15" fill="#C0504D"/>
<rect x="295" y="660.5" width="15" height="15" fill="#C0504D"/>
<rect x="394.25" y="810" width="15" height="15" fill="#C0504D"/>
<rect x="495" y="889.5" width="15" height="15" fill="#C0504D"/>
<polyline points="102.5,570 202.5,582.5 302.5,613.75 401.75,668.75 502.5,718.75" fill="none" stroke="#9BBB59" stroke-width="5.5" stroke-linejoin="round"/>
<polygon points="102.5,561.31 110.4,576.95 94.6,576.95" fill="#9BBB59"/>
<polygon points="202.5,573.81 210.4,589.45 194.6,589.45" fill="#9BBB59"/>
<polygon points="302.5,605.06 310.4,620.7 294.6,620.7" fill="#9BBB59"/>
<polygon points="401.75,660.06 409.65,675.7 393.85,675.7" fill="#9BBB59"/>
<polygon points="502.5,710.06 510.4,725.7 494.6,725.7" fill="#9BBB59"/>
<polyline points="102.5,570 202.5,587.5 302.5,610 401.75,666 502.5,705" fill="none" stroke="#00B050" stroke-width="5.5" stroke-linejoin="round"/>
<polygon points="102.5,562 110.5,576 94.5,576" fill="none" stroke="#00B050" stroke-width="3"/>
<polygon points="202.5,579.5 210.5,593.5 194.5,593.5" fill="none" stroke="#00B050" stroke-width="3"/>
<polygon points="302.5,602 310.5,616 294.5,616" fill="none" stroke="#00B050" stroke-width="3"/>
<polygon points="401.75,658 409.75,672 393.75,672" fill="none" stroke="#00B050" stroke-width="3"/>
<polygon points="502.5,697 510.5,711 494.5,711" fill="none" stroke="#00B050" stroke-width="3"/>
<polyline points="102.5,570 202.5,593.75 302.5,627.5 401.75,697.5 502.5,800" fill="none" stroke="#8064A2" stroke-width="5.5" stroke-linejoin="round"/>
<circle cx="102.5" cy="570" r="8.66" fill="#8064A2"/>
<circle cx="202.5" cy="593.75" r="8.66" fill="#8064A2"/>
<circle cx="302.5" cy="627.5" r="8.66" fill="#8064A2"/>
<circle cx="401.75" cy="697.5" r="8.66" fill="#8064A2"/>
<circle cx="502.5" cy="800" r="8.66" fill="#8064A2"/>
<polyline points="102.5,570 202.5,594.5 302.5,628.75 401.75,708 502.5,800" fill="none" stroke="#B3A2C7" stroke-width="5.5" stroke-linejoin="round"/>
<circle cx="102.5" cy="570" r="8.89" fill="none" stroke="#B3A2C7" stroke-width="3.63"/>
<circle cx="202.5" cy="594.5" r="8.89" fill="none" stroke="#B3A2C7" stroke-width="3.63"/>
<circle cx="302.5" cy="628.75" r="8.89" fill="none" stroke="#B3A2C7" stroke-width="3.63"/>
<circle cx="401.75" cy="708" r="8.89" fill="none" stroke="#B3A2C7" stroke-width="3.63"/>
<circle cx="502.5" cy="800" r="8.89" fill="none" stroke="#B3A2C7" stroke-width="3.63"/>
<line x1="107.5" y1="670" x2="161.25" y2="670" stroke="#4A7DC4" stroke-width="2.8" stroke-linecap="butt"/>
<polygon points="133.75,662.35 141.4,670 133.75,677.65 126.1,670" fill="#4A7DC4" stroke="#4A7DC4" stroke-width="0.68" stroke-linejoin="round"/>
<text x="166.25" y="676.25" font-size="25" text-anchor="start" font-weight="bold" font-style="normal" fill="#000" textLength="64" lengthAdjust="spacingAndGlyphs">DT40</text>
<line x1="107.5" y1="719.25" x2="161.25" y2="719.25" stroke="#BE1E24" stroke-width="2.8" stroke-linecap="butt"/>
<rect x="127.38" y="712.88" width="12.75" height="12.75" fill="#BE1E24"/>
<text x="166.25" y="725.5" font-size="25" text-anchor="start" font-weight="bold" font-style="normal" fill="#000" textLength="63" lengthAdjust="spacingAndGlyphs"><tspan font-style="italic">rif1</tspan><tspan font-style="italic" font-size="17.5" dy="-9.25">-/-</tspan></text>
<line x1="107.5" y1="769.5" x2="161.25" y2="769.5" stroke="#9BBB59" stroke-width="2.8" stroke-linecap="butt"/>
<polygon points="133.75,762.11 140.47,775.41 127.03,775.41" fill="#9BBB59"/>
<text x="166.25" y="775.75" font-size="25" text-anchor="start" font-weight="bold" font-style="normal" fill="#000" textLength="200" lengthAdjust="spacingAndGlyphs"><tspan font-style="italic">rif1</tspan><tspan font-style="italic" font-size="17.5" dy="-9.25">-/-</tspan><tspan font-style="normal" dy="9.25">+ chRIF1_1</tspan></text>
<line x1="107.5" y1="818" x2="161.25" y2="818" stroke="#00B050" stroke-width="2.8" stroke-linecap="butt"/>
<polygon points="133.75,811.2 140.55,823.1 126.95,823.1" fill="none" stroke="#00B050" stroke-width="2.55"/>
<text x="166.25" y="824.25" font-size="25" text-anchor="start" font-weight="bold" font-style="normal" fill="#000" textLength="200" lengthAdjust="spacingAndGlyphs"><tspan font-style="italic">rif1</tspan><tspan font-style="italic" font-size="17.5" dy="-9.25">-/-</tspan><tspan font-style="normal" dy="9.25">+ chRIF1_2</tspan></text>
<line x1="107.5" y1="867.5" x2="161.25" y2="867.5" stroke="#7030A0" stroke-width="2.8" stroke-linecap="butt"/>
<circle cx="133.75" cy="867.5" r="6.29" fill="#7030A0"/>
<text x="166.25" y="873.75" font-size="25" text-anchor="start" font-weight="bold" font-style="normal" fill="#000" textLength="256" lengthAdjust="spacingAndGlyphs"><tspan font-style="italic">rif1</tspan><tspan font-style="italic" font-size="17.5" dy="-9.25">-/-</tspan><tspan font-style="normal" dy="9.25">+ chRIF1AAD_1</tspan></text>
<line x1="107.5" y1="916.25" x2="161.25" y2="916.25" stroke="#B3A2C7" stroke-width="2.8" stroke-linecap="butt"/>
<circle cx="133.75" cy="916.25" r="6.46" fill="none" stroke="#B3A2C7" stroke-width="2.63"/>
<text x="166.25" y="922.5" font-size="25" text-anchor="start" font-weight="bold" font-style="normal" fill="#000" textLength="256" lengthAdjust="spacingAndGlyphs"><tspan font-style="italic">rif1</tspan><tspan font-style="italic" font-size="17.5" dy="-9.25">-/-</tspan><tspan font-style="normal" dy="9.25">+ chRIF1AAD_2</tspan></text>
<text x="311.75" y="1003" font-size="32" text-anchor="middle" font-weight="bold" font-style="normal" fill="#000" textLength="218.5" lengthAdjust="spacingAndGlyphs">Etoposide (nM)</text>
<text x="49.5" y="749.5" font-size="32" text-anchor="middle" font-weight="bold" font-style="normal" fill="#000" textLength="166" lengthAdjust="spacingAndGlyphs" transform="rotate(-90 49.5 749.5)">Survival (%)</text>
<g transform="translate(557.5 587) scale(1 1)"><text x="0" y="0" font-size="63.4" text-anchor="start" font-weight="bold" font-style="normal" fill="#000">d</text></g>
<line x1="673" y1="656.25" x2="673" y2="917.5" stroke="#000" stroke-width="2.4" stroke-linecap="butt"/>
<line x1="673" y1="917.5" x2="1072.5" y2="917.5" stroke="#000" stroke-width="2.4" stroke-linecap="butt"/>
<line x1="665.5" y1="700" x2="673" y2="700" stroke="#000" stroke-width="2.4" stroke-linecap="butt"/>
<g transform="translate(664.5 708.84) scale(0.94 1)"><text x="0" y="0" font-size="26.4" text-anchor="end" font-weight="bold" font-style="normal" fill="#000">100</text></g>
<line x1="665.5" y1="808.75" x2="673" y2="808.75" stroke="#000" stroke-width="2.4" stroke-linecap="butt"/>
<g transform="translate(664.5 817.59) scale(0.94 1)"><text x="0" y="0" font-size="26.4" text-anchor="end" font-weight="bold" font-style="normal" fill="#000">50</text></g>
<line x1="665.5" y1="917.5" x2="673" y2="917.5" stroke="#000" stroke-width="2.4" stroke-linecap="butt"/>
<g transform="translate(664.5 926.34) scale(0.94 1)"><text x="0" y="0" font-size="26.4" text-anchor="end" font-weight="bold" font-style="normal" fill="#000">0</text></g>
<rect x="683.9" y="700.9" width="43.45" height="216.6" fill="#D3D3D3" stroke="#000" stroke-width="2.8"/>
<rect x="750.9" y="855.15" width="43.2" height="62.35" fill="#D3D3D3" stroke="#000" stroke-width="2.8"/>
<rect x="817.65" y="710.9" width="42.2" height="206.6" fill="#D3D3D3" stroke="#000" stroke-width="2.8"/>
<rect x="883.9" y="738.9" width="42.2" height="178.6" fill="#D3D3D3" stroke="#000" stroke-width="2.8"/>
<rect x="950.15" y="840.15" width="42.2" height="77.35" fill="#D3D3D3" stroke="#000" stroke-width="2.8"/>
<rect x="1016.4" y="820.15" width="42.2" height="97.35" fill="#D3D3D3" stroke="#000" stroke-width="2.8"/>
<line x1="706" y1="917.5" x2="706" y2="925" stroke="#000" stroke-width="2.4" stroke-linecap="butt"/>
<line x1="772.5" y1="917.5" x2="772.5" y2="925" stroke="#000" stroke-width="2.4" stroke-linecap="butt"/>
<line x1="838.75" y1="917.5" x2="838.75" y2="925" stroke="#000" stroke-width="2.4" stroke-linecap="butt"/>
<line x1="905" y1="917.5" x2="905" y2="925" stroke="#000" stroke-width="2.4" stroke-linecap="butt"/>
<line x1="971.25" y1="917.5" x2="971.25" y2="925" stroke="#000" stroke-width="2.4" stroke-linecap="butt"/>
<line x1="1037.5" y1="917.5" x2="1037.5" y2="925" stroke="#000" stroke-width="2.4" stroke-linecap="butt"/>
<line x1="772" y1="838.75" x2="772" y2="870" stroke="#000" stroke-width="2.5" stroke-linecap="butt"/>
<line x1="761" y1="838.75" x2="783" y2="838.75" stroke="#000" stroke-width="2.5" stroke-linecap="butt"/>
<line x1="761" y1="870" x2="783" y2="870" stroke="#000" stroke-width="2.5" stroke-linecap="butt"/>
<line x1="838.75" y1="680" x2="838.75" y2="740" stroke="#000" stroke-width="2.5" stroke-linecap="butt"/>
<line x1="827.75" y1="680" x2="849.75" y2="680" stroke="#000" stroke-width="2.5" stroke-linecap="butt"/>
<line x1="827.75" y1="740" x2="849.75" y2="740" stroke="#000" stroke-width="2.5" stroke-linecap="butt"/>
<line x1="905" y1="713.75" x2="905" y2="762.5" stroke="#000" stroke-width="2.5" stroke-linecap="butt"/>
<line x1="894" y1="713.75" x2="916" y2="713.75" stroke="#000" stroke-width="2.5" stroke-linecap="butt"/>
<line x1="894" y1="762.5" x2="916" y2="762.5" stroke="#000" stroke-width="2.5" stroke-linecap="butt"/>
<line x1="971.25" y1="822" x2="971.25" y2="855.5" stroke="#000" stroke-width="2.5" stroke-linecap="butt"/>
<line x1="960.25" y1="822" x2="982.25" y2="822" stroke="#000" stroke-width="2.5" stroke-linecap="butt"/>
<line x1="960.25" y1="855.5" x2="982.25" y2="855.5" stroke="#000" stroke-width="2.5" stroke-linecap="butt"/>
<line x1="1037.5" y1="808" x2="1037.5" y2="829.5" stroke="#000" stroke-width="2.5" stroke-linecap="butt"/>
<line x1="1026.5" y1="808" x2="1048.5" y2="808" stroke="#000" stroke-width="2.5" stroke-linecap="butt"/>
<line x1="1026.5" y1="829.5" x2="1048.5" y2="829.5" stroke="#000" stroke-width="2.5" stroke-linecap="butt"/>
<circle cx="693.75" cy="700" r="3.8" fill="#000"/>
<circle cx="705" cy="700" r="3.8" fill="#000"/>
<circle cx="717.5" cy="700" r="3.8" fill="#000"/>
<circle cx="772" cy="835.5" r="3.8" fill="#000"/>
<circle cx="778" cy="860" r="3.8" fill="#000"/>
<circle cx="766.25" cy="866.25" r="3.8" fill="#000"/>
<circle cx="838.75" cy="676.25" r="3.8" fill="#000"/>
<circle cx="838.75" cy="720.5" r="3.8" fill="#000"/>
<circle cx="838.75" cy="733.75" r="3.8" fill="#000"/>
<circle cx="898.75" cy="718" r="3.8" fill="#000"/>
<circle cx="910.75" cy="730" r="3.8" fill="#000"/>
<circle cx="905" cy="765" r="3.8" fill="#000"/>
<circle cx="971.25" cy="824.5" r="3.8" fill="#000"/>
<circle cx="971.25" cy="835.5" r="3.8" fill="#000"/>
<circle cx="971.25" cy="857" r="3.8" fill="#000"/>
<circle cx="1037.5" cy="806.25" r="3.8" fill="#000"/>
<circle cx="1031.25" cy="825.5" r="3.8" fill="#000"/>
<circle cx="1043.75" cy="825" r="3.8" fill="#000"/>
<polyline points="709.5,595.5 709.5,583.75 763.75,583.75 763.75,595.5" fill="none" stroke="#000" stroke-width="2.8" stroke-linejoin="miter"/>
<text x="706.79" y="585.19" font-size="23.7" font-family="DejaVu Sans, sans-serif" font-weight="normal" letter-spacing="3.42" stroke="#000" stroke-width="0.45">****</text>
<polyline points="709.5,613.75 709.5,603.25 840,603.25 840,613.75" fill="none" stroke="#000" stroke-width="2.8" stroke-linejoin="miter"/>
<text x="800.5" y="597.5" font-size="29" text-anchor="middle" font-weight="bold" font-style="normal" fill="#000" textLength="26.5" lengthAdjust="spacingAndGlyphs">ns</text>
<polyline points="709.5,633 709.5,623.25 905,623.25 905,633" fill="none" stroke="#000" stroke-width="2.8" stroke-linejoin="miter"/>
<text x="872.4" y="616.25" font-size="29" text-anchor="middle" font-weight="bold" font-style="normal" fill="#000" textLength="26.5" lengthAdjust="spacingAndGlyphs">ns</text>
<polyline points="709.5,655 709.5,644.5 970,644.5 970,655" fill="none" stroke="#000" stroke-width="2.8" stroke-linejoin="miter"/>
<text x="909.29" y="642.19" font-size="23.7" font-family="DejaVu Sans, sans-serif" font-weight="normal" letter-spacing="3.42" stroke="#000" stroke-width="0.45">****</text>
<polyline points="709.5,677 709.5,665.75 1036.25,665.75 1036.25,677" fill="none" stroke="#000" stroke-width="2.8" stroke-linejoin="miter"/>
<text x="979.29" y="663.99" font-size="23.7" font-family="DejaVu Sans, sans-serif" font-weight="normal" letter-spacing="3.42" stroke="#000" stroke-width="0.45">****</text>
<text x="706.25" y="955" font-size="29" text-anchor="middle" font-weight="bold" font-style="normal" fill="#000" textLength="44" lengthAdjust="spacingAndGlyphs">WT</text>
<text x="779.5" y="1008.75" font-size="29" text-anchor="start" font-weight="bold" font-style="normal" fill="#000" textLength="70" lengthAdjust="spacingAndGlyphs" transform="rotate(-90 779.5 1008.75)">none</text>
<text x="838.75" y="952.5" font-size="31" text-anchor="middle" font-weight="bold" font-style="normal" fill="#000">1</text>
<text x="905" y="952.5" font-size="31" text-anchor="middle" font-weight="bold" font-style="normal" fill="#000">2</text>
<text x="971.25" y="952.5" font-size="31" text-anchor="middle" font-weight="bold" font-style="normal" fill="#000">1</text>
<text x="1037.5" y="952.5" font-size="31" text-anchor="middle" font-weight="bold" font-style="normal" fill="#000">2</text>
<line x1="827.5" y1="965.5" x2="913.75" y2="965.5" stroke="#000" stroke-width="5.2" stroke-linecap="butt"/>
<line x1="961.25" y1="965.5" x2="1047.5" y2="965.5" stroke="#000" stroke-width="5.2" stroke-linecap="butt"/>
<text x="874.25" y="1002.5" font-size="29" text-anchor="middle" font-weight="bold" font-style="normal" fill="#000" textLength="37" lengthAdjust="spacingAndGlyphs">wt</text>
<text x="993" y="1002.5" font-size="29" text-anchor="middle" font-weight="bold" font-style="normal" fill="#000" textLength="61.25" lengthAdjust="spacingAndGlyphs">AAD</text>
<line x1="753" y1="1022.7" x2="1057.5" y2="1022.7" stroke="#000" stroke-width="5.6" stroke-linecap="butt"/>
<text x="791" y="1060.2" font-size="29.5" text-anchor="start" font-weight="bold" font-style="normal" fill="#000" textLength="197" lengthAdjust="spacingAndGlyphs"><tspan font-style="italic">rif1</tspan><tspan font-style="italic" font-size="20.65" dy="-10.91">-/-</tspan><tspan font-style="normal" dy="10.91"> + chRIF1</tspan></text>
<text x="615.2" y="803.9" font-size="27.8" text-anchor="middle" font-weight="bold" font-style="normal" fill="#000" textLength="376.3" lengthAdjust="spacingAndGlyphs" transform="rotate(-90 615.2 803.9)">Plasmid integration (% of WT)</text>
<g transform="translate(1100 588) scale(0.98 1)"><text x="0" y="0" font-size="63.6" text-anchor="start" font-weight="bold" font-style="normal" fill="#000">e</text></g>
<rect x="1212.5" y="569.5" width="407.25" height="376" fill="none" stroke="#000" stroke-width="2.6"/>
<line x1="1204" y1="578.75" x2="1212.5" y2="578.75" stroke="#000" stroke-width="2.6" stroke-linecap="butt"/>
<g transform="translate(1198 591.84) scale(0.94 1)"><text x="0" y="0" font-size="26.4" text-anchor="end" font-weight="bold" font-style="normal" fill="#000">100</text></g>
<line x1="1204" y1="701.25" x2="1212.5" y2="701.25" stroke="#000" stroke-width="2.6" stroke-linecap="butt"/>
<g transform="translate(1198 710.09) scale(0.94 1)"><text x="0" y="0" font-size="26.4" text-anchor="end" font-weight="bold" font-style="normal" fill="#000">10</text></g>
<line x1="1204" y1="823.75" x2="1212.5" y2="823.75" stroke="#000" stroke-width="2.6" stroke-linecap="butt"/>
<g transform="translate(1198 832.59) scale(0.94 1)"><text x="0" y="0" font-size="26.4" text-anchor="end" font-weight="bold" font-style="normal" fill="#000">1</text></g>
<line x1="1204" y1="945.5" x2="1212.5" y2="945.5" stroke="#000" stroke-width="2.6" stroke-linecap="butt"/>
<g transform="translate(1198 951.84) scale(0.94 1)"><text x="0" y="0" font-size="26.4" text-anchor="end" font-weight="bold" font-style="normal" fill="#000">0.1</text></g>
<line x1="1212.5" y1="945.5" x2="1212.5" y2="954" stroke="#000" stroke-width="2.6" stroke-linecap="butt"/>
<g transform="translate(1212.5 980.84) scale(0.94 1)"><text x="0" y="0" font-size="26.4" text-anchor="middle" font-weight="bold" font-style="normal" fill="#000">0</text></g>
<line x1="1313.75" y1="945.5" x2="1313.75" y2="954" stroke="#000" stroke-width="2.6" stroke-linecap="butt"/>
<g transform="translate(1313.75 980.84) scale(0.94 1)"><text x="0" y="0" font-size="26.4" text-anchor="middle" font-weight="bold" font-style="normal" fill="#000">80</text></g>
<line x1="1416.25" y1="945.5" x2="1416.25" y2="954" stroke="#000" stroke-width="2.6" stroke-linecap="butt"/>
<g transform="translate(1416.25 980.84) scale(0.94 1)"><text x="0" y="0" font-size="26.4" text-anchor="middle" font-weight="bold" font-style="normal" fill="#000">160</text></g>
<line x1="1517.5" y1="945.5" x2="1517.5" y2="954" stroke="#000" stroke-width="2.6" stroke-linecap="butt"/>
<g transform="translate(1517.5 980.84) scale(0.94 1)"><text x="0" y="0" font-size="26.4" text-anchor="middle" font-weight="bold" font-style="normal" fill="#000">240</text></g>
<line x1="1619.75" y1="945.5" x2="1619.75" y2="954" stroke="#000" stroke-width="2.6" stroke-linecap="butt"/>
<g transform="translate(1616.5 980.84) scale(0.94 1)"><text x="0" y="0" font-size="26.4" text-anchor="middle" font-weight="bold" font-style="normal" fill="#000">320</text></g>
<line x1="1313.75" y1="570" x2="1313.75" y2="590" stroke="#595959" stroke-width="2.8" stroke-linecap="butt"/>
<line x1="1306.75" y1="570" x2="1320.75" y2="570" stroke="#595959" stroke-width="2.8" stroke-linecap="butt"/>
<line x1="1306.75" y1="590" x2="1320.75" y2="590" stroke="#595959" stroke-width="2.8" stroke-linecap="butt"/>
<line x1="1313.75" y1="657" x2="1313.75" y2="672" stroke="#595959" stroke-width="2.8" stroke-linecap="butt"/>
<line x1="1306.75" y1="657" x2="1320.75" y2="657" stroke="#595959" stroke-width="2.8" stroke-linecap="butt"/>
<line x1="1306.75" y1="672" x2="1320.75" y2="672" stroke="#595959" stroke-width="2.8" stroke-linecap="butt"/>
<line x1="1313.75" y1="672" x2="1313.75" y2="683" stroke="#595959" stroke-width="2.8" stroke-linecap="butt"/>
<line x1="1306.75" y1="672" x2="1320.75" y2="672" stroke="#595959" stroke-width="2.8" stroke-linecap="butt"/>
<line x1="1306.75" y1="683" x2="1320.75" y2="683" stroke="#595959" stroke-width="2.8" stroke-linecap="butt"/>
<line x1="1416.25" y1="745" x2="1416.25" y2="760" stroke="#595959" stroke-width="2.8" stroke-linecap="butt"/>
<line x1="1409.25" y1="745" x2="1423.25" y2="745" stroke="#595959" stroke-width="2.8" stroke-linecap="butt"/>
<line x1="1409.25" y1="760" x2="1423.25" y2="760" stroke="#595959" stroke-width="2.8" stroke-linecap="butt"/>
<line x1="1517.5" y1="600" x2="1517.5" y2="616" stroke="#595959" stroke-width="2.8" stroke-linecap="butt"/>
<line x1="1510.5" y1="600" x2="1524.5" y2="600" stroke="#595959" stroke-width="2.8" stroke-linecap="butt"/>
<line x1="1510.5" y1="616" x2="1524.5" y2="616" stroke="#595959" stroke-width="2.8" stroke-linecap="butt"/>
<line x1="1517.5" y1="621" x2="1517.5" y2="636" stroke="#595959" stroke-width="2.8" stroke-linecap="butt"/>
<line x1="1510.5" y1="621" x2="1524.5" y2="621" stroke="#595959" stroke-width="2.8" stroke-linecap="butt"/>
<line x1="1510.5" y1="636" x2="1524.5" y2="636" stroke="#595959" stroke-width="2.8" stroke-linecap="butt"/>
<line x1="1517.5" y1="848" x2="1517.5" y2="862" stroke="#595959" stroke-width="2.8" stroke-linecap="butt"/>
<line x1="1510.5" y1="848" x2="1524.5" y2="848" stroke="#595959" stroke-width="2.8" stroke-linecap="butt"/>
<line x1="1510.5" y1="862" x2="1524.5" y2="862" stroke="#595959" stroke-width="2.8" stroke-linecap="butt"/>
<line x1="1517.5" y1="862" x2="1517.5" y2="876" stroke="#595959" stroke-width="2.8" stroke-linecap="butt"/>
<line x1="1510.5" y1="862" x2="1524.5" y2="862" stroke="#595959" stroke-width="2.8" stroke-linecap="butt"/>
<line x1="1510.5" y1="876" x2="1524.5" y2="876" stroke="#595959" stroke-width="2.8" stroke-linecap="butt"/>
<line x1="1619.75" y1="634" x2="1619.75" y2="648" stroke="#595959" stroke-width="2.8" stroke-linecap="butt"/>
<line x1="1612.75" y1="634" x2="1626.75" y2="634" stroke="#595959" stroke-width="2.8" stroke-linecap="butt"/>
<line x1="1612.75" y1="648" x2="1626.75" y2="648" stroke="#595959" stroke-width="2.8" stroke-linecap="butt"/>
<line x1="1619.75" y1="865" x2="1619.75" y2="880" stroke="#595959" stroke-width="2.8" stroke-linecap="butt"/>
<line x1="1612.75" y1="865" x2="1626.75" y2="865" stroke="#595959" stroke-width="2.8" stroke-linecap="butt"/>
<line x1="1612.75" y1="880" x2="1626.75" y2="880" stroke="#595959" stroke-width="2.8" stroke-linecap="butt"/>
<line x1="1619.75" y1="884" x2="1619.75" y2="898" stroke="#595959" stroke-width="2.8" stroke-linecap="butt"/>
<line x1="1612.75" y1="884" x2="1626.75" y2="884" stroke="#595959" stroke-width="2.8" stroke-linecap="butt"/>
<line x1="1612.75" y1="898" x2="1626.75" y2="898" stroke="#595959" stroke-width="2.8" stroke-linecap="butt"/>
<polyline points="1212.5,578.75 1313.75,577 1416.25,585.5 1517.5,608 1619.75,638.75" fill="none" stroke="#4F81BD" stroke-width="5.5" stroke-linejoin="round"/>
<polygon points="1212.5,569.75 1221.5,578.75 1212.5,587.75 1203.5,578.75" fill="#4F81BD" stroke="#4F81BD" stroke-width="0.8" stroke-linejoin="round"/>
<polygon points="1313.75,568 1322.75,577 1313.75,586 1304.75,577" fill="#4F81BD" stroke="#4F81BD" stroke-width="0.8" stroke-linejoin="round"/>
<polygon points="1416.25,576.5 1425.25,585.5 1416.25,594.5 1407.25,585.5" fill="#4F81BD" stroke="#4F81BD" stroke-width="0.8" stroke-linejoin="round"/>
<polygon points="1517.5,599 1526.5,608 1517.5,617 1508.5,608" fill="#4F81BD" stroke="#4F81BD" stroke-width="0.8" stroke-linejoin="round"/>
<polygon points="1619.75,629.75 1628.75,638.75 1619.75,647.75 1610.75,638.75" fill="#4F81BD" stroke="#4F81BD" stroke-width="0.8" stroke-linejoin="round"/>
<polyline points="1212.5,578.75 1313.75,581.25 1416.25,612.5 1517.5,628.25 1619.75,643.75" fill="none" stroke="#9BBB59" stroke-width="5.5" stroke-linejoin="round"/>
<polygon points="1212.5,570.06 1220.4,585.7 1204.6,585.7" fill="#9BBB59"/>
<polygon points="1313.75,572.56 1321.65,588.2 1305.85,588.2" fill="#9BBB59"/>
<polygon points="1416.25,603.81 1424.15,619.45 1408.35,619.45" fill="#9BBB59"/>
<polygon points="1517.5,619.56 1525.4,635.2 1509.6,635.2" fill="#9BBB59"/>
<polygon points="1619.75,635.06 1627.65,650.7 1611.85,650.7" fill="#9BBB59"/>
<polyline points="1212.5,578.75 1313.75,677.5 1416.25,753.75 1517.5,854.5 1619.75,891.25" fill="none" stroke="#B3A2C7" stroke-width="5.5" stroke-linejoin="round"/>
<circle cx="1212.5" cy="578.75" r="7.6" fill="none" stroke="#B3A2C7" stroke-width="3.1"/>
<circle cx="1313.75" cy="677.5" r="7.6" fill="none" stroke="#B3A2C7" stroke-width="3.1"/>
<circle cx="1416.25" cy="753.75" r="7.6" fill="none" stroke="#B3A2C7" stroke-width="3.1"/>
<circle cx="1517.5" cy="854.5" r="7.6" fill="none" stroke="#B3A2C7" stroke-width="3.1"/>
<circle cx="1619.75" cy="891.25" r="7.6" fill="none" stroke="#B3A2C7" stroke-width="3.1"/>
<polyline points="1212.5,578.75 1313.75,668.75 1416.25,750 1517.5,868.75 1619.75,928.75" fill="none" stroke="#8064A2" stroke-width="5.5" stroke-linejoin="round"/>
<circle cx="1212.5" cy="578.75" r="7.4" fill="#8064A2"/>
<circle cx="1313.75" cy="668.75" r="7.4" fill="#8064A2"/>
<circle cx="1416.25" cy="750" r="7.4" fill="#8064A2"/>
<circle cx="1517.5" cy="868.75" r="7.4" fill="#8064A2"/>
<circle cx="1619.75" cy="928.75" r="7.4" fill="#8064A2"/>
<polyline points="1212.5,578.75 1313.75,664.5 1416.25,735.5 1517.5,805 1619.75,872.5" fill="none" stroke="#C0504D" stroke-width="5.5" stroke-linejoin="round"/>
<rect x="1205" y="571.25" width="15" height="15" fill="#C0504D"/>
<rect x="1306.25" y="657" width="15" height="15" fill="#C0504D"/>
<rect x="1408.75" y="728" width="15" height="15" fill="#C0504D"/>
<rect x="1510" y="797.5" width="15" height="15" fill="#C0504D"/>
<rect x="1612.25" y="865" width="15" height="15" fill="#C0504D"/>
<line x1="1637.25" y1="637" x2="1688.5" y2="637" stroke="#4A7DC4" stroke-width="2.8" stroke-linecap="butt"/>
<polygon points="1662.75,629.35 1670.4,637 1662.75,644.65 1655.1,637" fill="#4A7DC4" stroke="#4A7DC4" stroke-width="0.68" stroke-linejoin="round"/>
<text x="1697.25" y="643.25" font-size="25" text-anchor="start" font-weight="bold" font-style="normal" fill="#000" textLength="65" lengthAdjust="spacingAndGlyphs">DT40</text>
<line x1="1637.25" y1="686.25" x2="1688.5" y2="686.25" stroke="#BE1E24" stroke-width="2.8" stroke-linecap="butt"/>
<rect x="1656.38" y="679.88" width="12.75" height="12.75" fill="#BE1E24"/>
<text x="1697.25" y="692.5" font-size="25" text-anchor="start" font-weight="bold" font-style="normal" fill="#000" textLength="129" lengthAdjust="spacingAndGlyphs"><tspan font-style="italic">asf1a</tspan><tspan font-style="italic" font-size="17.5" dy="-9.25">-/-/AID</tspan></text>
<line x1="1637.25" y1="737.5" x2="1688.5" y2="737.5" stroke="#6AAE48" stroke-width="2.8" stroke-linecap="butt"/>
<polygon points="1662.75,730.11 1669.46,743.41 1656.04,743.41" fill="#6AAE48"/>
<text x="1697.25" y="743.75" font-size="25" text-anchor="start" font-weight="bold" font-style="normal" fill="#000" textLength="228" lengthAdjust="spacingAndGlyphs"><tspan font-style="italic">asf1a</tspan><tspan font-style="italic" font-size="17.5" dy="-9.25">-/-/AID</tspan><tspan font-style="normal" dy="9.25">+ ASF1a</tspan></text>
<line x1="1637.25" y1="791.75" x2="1688.5" y2="791.75" stroke="#7030A0" stroke-width="2.8" stroke-linecap="butt"/>
<circle cx="1662.75" cy="791.75" r="6.29" fill="#7030A0"/>
<text x="1697.25" y="798" font-size="25" text-anchor="start" font-weight="bold" font-style="normal" fill="#000" textLength="308" lengthAdjust="spacingAndGlyphs"><tspan font-style="italic">asf1a</tspan><tspan font-style="italic" font-size="17.5" dy="-9.25">-/-/AID</tspan><tspan font-style="normal" dy="9.25">+ ASF1aEDAA</tspan></text>
<line x1="1637.25" y1="841.25" x2="1688.5" y2="841.25" stroke="#B3A2C7" stroke-width="2.8" stroke-linecap="butt"/>
<circle cx="1662.75" cy="841.25" r="6.46" fill="none" stroke="#B3A2C7" stroke-width="2.63"/>
<text x="1697.25" y="847.5" font-size="25" text-anchor="start" font-weight="bold" font-style="normal" fill="#000" textLength="295" lengthAdjust="spacingAndGlyphs"><tspan font-style="italic">asf1a</tspan><tspan font-style="italic" font-size="17.5" dy="-9.25">-/-/AID</tspan><tspan font-style="normal" dy="9.25">+ ASF1aV94R</tspan></text>
<text x="1423" y="1012" font-size="32" text-anchor="middle" font-weight="bold" font-style="normal" fill="#000" textLength="218.75" lengthAdjust="spacingAndGlyphs">Etoposide (nM)</text>
<text x="1155.5" y="762.5" font-size="32" text-anchor="middle" font-weight="bold" font-style="normal" fill="#000" textLength="167.5" lengthAdjust="spacingAndGlyphs" transform="rotate(-90 1155.5 762.5)">Survival (%)</text>
<g transform="translate(7.5 1150) scale(1.07 1)"><text x="0" y="0" font-size="64.2" text-anchor="start" font-weight="bold" font-style="normal" fill="#000">f</text></g>
<line x1="113.75" y1="1221.25" x2="113.75" y2="1486.5" stroke="#000" stroke-width="2.4" stroke-linecap="butt"/>
<line x1="113.75" y1="1486.5" x2="511.25" y2="1486.5" stroke="#000" stroke-width="2.4" stroke-linecap="butt"/>
<line x1="105.5" y1="1266.25" x2="113.75" y2="1266.25" stroke="#000" stroke-width="2.4" stroke-linecap="butt"/>
<g transform="translate(105.5 1275.09) scale(0.94 1)"><text x="0" y="0" font-size="26.4" text-anchor="end" font-weight="bold" font-style="normal" fill="#000">100</text></g>
<line x1="105.5" y1="1376.25" x2="113.75" y2="1376.25" stroke="#000" stroke-width="2.4" stroke-linecap="butt"/>
<g transform="translate(105.5 1385.09) scale(0.94 1)"><text x="0" y="0" font-size="26.4" text-anchor="end" font-weight="bold" font-style="normal" fill="#000">50</text></g>
<line x1="105.5" y1="1486.5" x2="113.75" y2="1486.5" stroke="#000" stroke-width="2.4" stroke-linecap="butt"/>
<g transform="translate(105.5 1495.34) scale(0.94 1)"><text x="0" y="0" font-size="26.4" text-anchor="end" font-weight="bold" font-style="normal" fill="#000">0</text></g>
<rect x="127.65" y="1267.65" width="50.95" height="218.85" fill="#D3D3D3" stroke="#000" stroke-width="2.8"/>
<rect x="206.4" y="1442.65" width="50.95" height="43.85" fill="#D3D3D3" stroke="#000" stroke-width="2.8"/>
<rect x="286.4" y="1278.15" width="50.2" height="208.35" fill="#D3D3D3" stroke="#000" stroke-width="2.8"/>
<rect x="365.15" y="1428.9" width="50.95" height="57.6" fill="#D3D3D3" stroke="#000" stroke-width="2.8"/>
<rect x="443.9" y="1431.4" width="51.7" height="55.1" fill="#D3D3D3" stroke="#000" stroke-width="2.8"/>
<line x1="151.25" y1="1486.5" x2="151.25" y2="1495" stroke="#000" stroke-width="2.4" stroke-linecap="butt"/>
<line x1="232" y1="1486.5" x2="232" y2="1495" stroke="#000" stroke-width="2.4" stroke-linecap="butt"/>
<line x1="311.25" y1="1486.5" x2="311.25" y2="1495" stroke="#000" stroke-width="2.4" stroke-linecap="butt"/>
<line x1="390" y1="1486.5" x2="390" y2="1495" stroke="#000" stroke-width="2.4" stroke-linecap="butt"/>
<line x1="470" y1="1486.5" x2="470" y2="1495" stroke="#000" stroke-width="2.4" stroke-linecap="butt"/>
<line x1="311.25" y1="1244.5" x2="311.25" y2="1308.75" stroke="#000" stroke-width="2.5" stroke-linecap="butt"/>
<line x1="297.75" y1="1244.5" x2="324.75" y2="1244.5" stroke="#000" stroke-width="2.5" stroke-linecap="butt"/>
<line x1="297.75" y1="1308.75" x2="324.75" y2="1308.75" stroke="#000" stroke-width="2.5" stroke-linecap="butt"/>
<line x1="390" y1="1421.25" x2="390" y2="1434.5" stroke="#000" stroke-width="2.5" stroke-linecap="butt"/>
<line x1="376.5" y1="1421.25" x2="403.5" y2="1421.25" stroke="#000" stroke-width="2.5" stroke-linecap="butt"/>
<line x1="376.5" y1="1434.5" x2="403.5" y2="1434.5" stroke="#000" stroke-width="2.5" stroke-linecap="butt"/>
<line x1="470" y1="1423" x2="470" y2="1438.75" stroke="#000" stroke-width="2.5" stroke-linecap="butt"/>
<line x1="456.5" y1="1423" x2="483.5" y2="1423" stroke="#000" stroke-width="2.5" stroke-linecap="butt"/>
<line x1="456.5" y1="1438.75" x2="483.5" y2="1438.75" stroke="#000" stroke-width="2.5" stroke-linecap="butt"/>
<line x1="232" y1="1440" x2="232" y2="1444" stroke="#000" stroke-width="2.5" stroke-linecap="butt"/>
<line x1="218.5" y1="1440" x2="245.5" y2="1440" stroke="#000" stroke-width="2.5" stroke-linecap="butt"/>
<line x1="218.5" y1="1444" x2="245.5" y2="1444" stroke="#000" stroke-width="2.5" stroke-linecap="butt"/>
<circle cx="141.25" cy="1266" r="3.8" fill="#000"/>
<circle cx="153" cy="1266" r="3.8" fill="#000"/>
<circle cx="165" cy="1266" r="3.8" fill="#000"/>
<circle cx="220" cy="1440" r="3.8" fill="#000"/>
<circle cx="232" cy="1443.75" r="3.8" fill="#000"/>
<circle cx="242.5" cy="1441.25" r="3.8" fill="#000"/>
<circle cx="311.25" cy="1240" r="3.8" fill="#000"/>
<circle cx="317" cy="1292" r="3.8" fill="#000"/>
<circle cx="305" cy="1299.5" r="3.8" fill="#000"/>
<circle cx="390" cy="1421.25" r="3.8" fill="#000"/>
<circle cx="396.25" cy="1427.5" r="3.8" fill="#000"/>
<circle cx="383.75" cy="1434.5" r="3.8" fill="#000"/>
<circle cx="470" cy="1422.5" r="3.8" fill="#000"/>
<circle cx="476.25" cy="1430" r="3.8" fill="#000"/>
<circle cx="464.5" cy="1438.75" r="3.8" fill="#000"/>
<polyline points="143.75,1173.75 143.75,1163.25 220,1163.25 220,1173.75" fill="none" stroke="#000" stroke-width="2.8" stroke-linejoin="miter"/>
<text x="151.79" y="1167.19" font-size="23.7" font-family="DejaVu Sans, sans-serif" font-weight="normal" letter-spacing="3.01" stroke="#000" stroke-width="0.45">****</text>
<polyline points="143.75,1191.25 143.75,1180.75 307.5,1180.75 307.5,1191.25" fill="none" stroke="#000" stroke-width="2.8" stroke-linejoin="miter"/>
<text x="261.6" y="1173.75" font-size="29" text-anchor="middle" font-weight="bold" font-style="normal" fill="#000" textLength="25.75" lengthAdjust="spacingAndGlyphs">ns</text>
<polyline points="143.75,1212.5 143.75,1202.5 382.5,1202.5 382.5,1212.5" fill="none" stroke="#000" stroke-width="2.8" stroke-linejoin="miter"/>
<text x="318.04" y="1200.19" font-size="23.7" font-family="DejaVu Sans, sans-serif" font-weight="normal" letter-spacing="3.01" stroke="#000" stroke-width="0.45">****</text>
<polyline points="143.75,1233.75 143.75,1223.75 460,1223.75 460,1233.75" fill="none" stroke="#000" stroke-width="2.8" stroke-linejoin="miter"/>
<text x="396.79" y="1222.19" font-size="23.7" font-family="DejaVu Sans, sans-serif" font-weight="normal" letter-spacing="3.01" stroke="#000" stroke-width="0.45">****</text>
<text x="145" y="1523.75" font-size="29" text-anchor="middle" font-weight="bold" font-style="normal" fill="#000" textLength="42.5" lengthAdjust="spacingAndGlyphs">WT</text>
<text x="233.12" y="1523.75" font-size="29" text-anchor="middle" font-weight="bold" font-style="normal" fill="#000" textLength="71.25" lengthAdjust="spacingAndGlyphs">none</text>
<text x="308.12" y="1523.75" font-size="29" text-anchor="middle" font-weight="bold" font-style="normal" fill="#000" textLength="36.25" lengthAdjust="spacingAndGlyphs">wt</text>
<text x="385.62" y="1523.75" font-size="29" text-anchor="middle" font-weight="bold" font-style="normal" fill="#000" textLength="73.75" lengthAdjust="spacingAndGlyphs">V94R</text>
<text x="476" y="1523.75" font-size="29" text-anchor="middle" font-weight="bold" font-style="normal" fill="#000" textLength="78" lengthAdjust="spacingAndGlyphs">EDAA</text>
<line x1="201" y1="1540.7" x2="506" y2="1540.7" stroke="#000" stroke-width="6" stroke-linecap="butt"/>
<text x="218.2" y="1578.9" font-size="29.5" text-anchor="start" font-weight="bold" font-style="normal" fill="#000" textLength="257" lengthAdjust="spacingAndGlyphs"><tspan font-style="italic">asf1a</tspan><tspan font-style="italic" font-size="20.65" dy="-10.91">-/-/AID</tspan><tspan font-style="normal" dy="10.91">+ ASF1a</tspan></text>
<text x="51.7" y="1366.8" font-size="27.8" text-anchor="middle" font-weight="bold" font-style="normal" fill="#000" textLength="375.8" lengthAdjust="spacingAndGlyphs" transform="rotate(-90 51.7 1366.8)">Plasmid integration (% of WT)</text>
<g transform="translate(556.4 1144.5) scale(0.93 1)"><text x="0" y="0" font-size="62" text-anchor="start" font-weight="bold" font-style="normal" fill="#000">g</text></g>
<rect x="665" y="1131" width="401.75" height="371.5" fill="none" stroke="#000" stroke-width="2.6"/>
<line x1="656.5" y1="1136.25" x2="665" y2="1136.25" stroke="#000" stroke-width="2.6" stroke-linecap="butt"/>
<g transform="translate(657 1145.09) scale(0.94 1)"><text x="0" y="0" font-size="26.4" text-anchor="end" font-weight="bold" font-style="normal" fill="#000">100</text></g>
<line x1="656.5" y1="1210" x2="665" y2="1210" stroke="#000" stroke-width="2.6" stroke-linecap="butt"/>
<g transform="translate(657 1218.84) scale(0.94 1)"><text x="0" y="0" font-size="26.4" text-anchor="end" font-weight="bold" font-style="normal" fill="#000">10</text></g>
<line x1="656.5" y1="1283" x2="665" y2="1283" stroke="#000" stroke-width="2.6" stroke-linecap="butt"/>
<g transform="translate(657 1291.84) scale(0.94 1)"><text x="0" y="0" font-size="26.4" text-anchor="end" font-weight="bold" font-style="normal" fill="#000">1</text></g>
<line x1="656.5" y1="1356.25" x2="665" y2="1356.25" stroke="#000" stroke-width="2.6" stroke-linecap="butt"/>
<g transform="translate(657 1365.09) scale(0.94 1)"><text x="0" y="0" font-size="26.4" text-anchor="end" font-weight="bold" font-style="normal" fill="#000">0.1</text></g>
<line x1="656.5" y1="1429.5" x2="665" y2="1429.5" stroke="#000" stroke-width="2.6" stroke-linecap="butt"/>
<g transform="translate(657 1438.34) scale(0.94 1)"><text x="0" y="0" font-size="26.4" text-anchor="end" font-weight="bold" font-style="normal" fill="#000">0.01</text></g>
<line x1="656.5" y1="1502.5" x2="665" y2="1502.5" stroke="#000" stroke-width="2.6" stroke-linecap="butt"/>
<g transform="translate(657 1508.84) scale(0.94 1)"><text x="0" y="0" font-size="26.4" text-anchor="end" font-weight="bold" font-style="normal" fill="#000">0.001</text></g>
<line x1="665" y1="1502.5" x2="665" y2="1511" stroke="#000" stroke-width="2.6" stroke-linecap="butt"/>
<g transform="translate(665 1530.84) scale(0.94 1)"><text x="0" y="0" font-size="26.4" text-anchor="middle" font-weight="bold" font-style="normal" fill="#000">0</text></g>
<line x1="765.5" y1="1502.5" x2="765.5" y2="1511" stroke="#000" stroke-width="2.6" stroke-linecap="butt"/>
<g transform="translate(765.5 1530.84) scale(0.94 1)"><text x="0" y="0" font-size="26.4" text-anchor="middle" font-weight="bold" font-style="normal" fill="#000">80</text></g>
<line x1="865.5" y1="1502.5" x2="865.5" y2="1511" stroke="#000" stroke-width="2.6" stroke-linecap="butt"/>
<g transform="translate(865.5 1530.84) scale(0.94 1)"><text x="0" y="0" font-size="26.4" text-anchor="middle" font-weight="bold" font-style="normal" fill="#000">160</text></g>
<line x1="966.25" y1="1502.5" x2="966.25" y2="1511" stroke="#000" stroke-width="2.6" stroke-linecap="butt"/>
<g transform="translate(966.25 1530.84) scale(0.94 1)"><text x="0" y="0" font-size="26.4" text-anchor="middle" font-weight="bold" font-style="normal" fill="#000">240</text></g>
<line x1="1066.75" y1="1502.5" x2="1066.75" y2="1511" stroke="#000" stroke-width="2.6" stroke-linecap="butt"/>
<g transform="translate(1066.75 1530.84) scale(0.94 1)"><text x="0" y="0" font-size="26.4" text-anchor="middle" font-weight="bold" font-style="normal" fill="#000">320</text></g>
<line x1="966.25" y1="1418.75" x2="966.25" y2="1438.75" stroke="#595959" stroke-width="2.8" stroke-linecap="butt"/>
<line x1="957.75" y1="1418.75" x2="974.75" y2="1418.75" stroke="#595959" stroke-width="2.8" stroke-linecap="butt"/>
<line x1="957.75" y1="1438.75" x2="974.75" y2="1438.75" stroke="#595959" stroke-width="2.8" stroke-linecap="butt"/>
<line x1="765.5" y1="1190" x2="765.5" y2="1200" stroke="#595959" stroke-width="2.8" stroke-linecap="butt"/>
<line x1="757" y1="1190" x2="774" y2="1190" stroke="#595959" stroke-width="2.8" stroke-linecap="butt"/>
<line x1="757" y1="1200" x2="774" y2="1200" stroke="#595959" stroke-width="2.8" stroke-linecap="butt"/>
<line x1="865.5" y1="1273" x2="865.5" y2="1285" stroke="#595959" stroke-width="2.8" stroke-linecap="butt"/>
<line x1="857" y1="1273" x2="874" y2="1273" stroke="#595959" stroke-width="2.8" stroke-linecap="butt"/>
<line x1="857" y1="1285" x2="874" y2="1285" stroke="#595959" stroke-width="2.8" stroke-linecap="butt"/>
<line x1="966.25" y1="1367" x2="966.25" y2="1376" stroke="#595959" stroke-width="2.8" stroke-linecap="butt"/>
<line x1="957.75" y1="1367" x2="974.75" y2="1367" stroke="#595959" stroke-width="2.8" stroke-linecap="butt"/>
<line x1="957.75" y1="1376" x2="974.75" y2="1376" stroke="#595959" stroke-width="2.8" stroke-linecap="butt"/>
<line x1="865.5" y1="1320" x2="865.5" y2="1330" stroke="#595959" stroke-width="2.8" stroke-linecap="butt"/>
<line x1="857" y1="1320" x2="874" y2="1320" stroke="#595959" stroke-width="2.8" stroke-linecap="butt"/>
<line x1="857" y1="1330" x2="874" y2="1330" stroke="#595959" stroke-width="2.8" stroke-linecap="butt"/>
<line x1="765.5" y1="1150" x2="765.5" y2="1160" stroke="#595959" stroke-width="2.8" stroke-linecap="butt"/>
<line x1="757" y1="1150" x2="774" y2="1150" stroke="#595959" stroke-width="2.8" stroke-linecap="butt"/>
<line x1="757" y1="1160" x2="774" y2="1160" stroke="#595959" stroke-width="2.8" stroke-linecap="butt"/>
<line x1="1066.75" y1="1388" x2="1066.75" y2="1398" stroke="#595959" stroke-width="2.8" stroke-linecap="butt"/>
<line x1="1058.25" y1="1388" x2="1075.25" y2="1388" stroke="#595959" stroke-width="2.8" stroke-linecap="butt"/>
<line x1="1058.25" y1="1398" x2="1075.25" y2="1398" stroke="#595959" stroke-width="2.8" stroke-linecap="butt"/>
<polyline points="665,1136.25 765.5,1140.75 865.5,1165 966.25,1186.25 1066.75,1185.5" fill="none" stroke="#4F81BD" stroke-width="5.2" stroke-linejoin="round"/>
<polygon points="665,1127.25 674,1136.25 665,1145.25 656,1136.25" fill="#4F81BD" stroke="#4F81BD" stroke-width="0.8" stroke-linejoin="round"/>
<polygon points="765.5,1131.75 774.5,1140.75 765.5,1149.75 756.5,1140.75" fill="#4F81BD" stroke="#4F81BD" stroke-width="0.8" stroke-linejoin="round"/>
<polygon points="865.5,1156 874.5,1165 865.5,1174 856.5,1165" fill="#4F81BD" stroke="#4F81BD" stroke-width="0.8" stroke-linejoin="round"/>
<polygon points="966.25,1177.25 975.25,1186.25 966.25,1195.25 957.25,1186.25" fill="#4F81BD" stroke="#4F81BD" stroke-width="0.8" stroke-linejoin="round"/>
<polygon points="1066.75,1176.5 1075.75,1185.5 1066.75,1194.5 1057.75,1185.5" fill="#4F81BD" stroke="#4F81BD" stroke-width="0.8" stroke-linejoin="round"/>
<polyline points="665,1136.25 765.5,1155 865.5,1192 966.25,1267 1066.75,1322" fill="none" stroke="#C0504D" stroke-width="5.2" stroke-linejoin="round"/>
<rect x="657.5" y="1128.75" width="15" height="15" fill="#C0504D"/>
<rect x="758" y="1147.5" width="15" height="15" fill="#C0504D"/>
<rect x="858" y="1184.5" width="15" height="15" fill="#C0504D"/>
<rect x="958.75" y="1259.5" width="15" height="15" fill="#C0504D"/>
<rect x="1059.25" y="1314.5" width="15" height="15" fill="#C0504D"/>
<polyline points="665,1136.25 765.5,1195 865.5,1278.75 966.25,1372.5 1066.75,1394.5" fill="none" stroke="#9BBB59" stroke-width="5.2" stroke-linejoin="round"/>
<polygon points="665,1127.56 672.9,1143.2 657.1,1143.2" fill="#9BBB59"/>
<polygon points="765.5,1186.31 773.4,1201.95 757.6,1201.95" fill="#9BBB59"/>
<polygon points="865.5,1270.06 873.4,1285.7 857.6,1285.7" fill="#9BBB59"/>
<polygon points="966.25,1363.81 974.15,1379.45 958.35,1379.45" fill="#9BBB59"/>
<polygon points="1066.75,1385.81 1074.65,1401.45 1058.85,1401.45" fill="#9BBB59"/>
<polyline points="665,1136.25 765.5,1205 865.5,1324.5 966.25,1427 1066.75,1477.5" fill="none" stroke="#8064A2" stroke-width="5.2" stroke-linejoin="round"/>
<circle cx="665" cy="1136.25" r="7.4" fill="#8064A2"/>
<circle cx="765.5" cy="1205" r="7.4" fill="#8064A2"/>
<circle cx="865.5" cy="1324.5" r="7.4" fill="#8064A2"/>
<circle cx="966.25" cy="1427" r="7.4" fill="#8064A2"/>
<circle cx="1066.75" cy="1477.5" r="7.4" fill="#8064A2"/>
<line x1="682.5" y1="1325.75" x2="733" y2="1325.75" stroke="#4A7DC4" stroke-width="2.8" stroke-linecap="butt"/>
<polygon points="707.5,1318.1 715.15,1325.75 707.5,1333.4 699.85,1325.75" fill="#4A7DC4" stroke="#4A7DC4" stroke-width="0.68" stroke-linejoin="round"/>
<text x="742.5" y="1332" font-size="25" text-anchor="start" font-weight="bold" font-style="normal" fill="#000" textLength="62.5" lengthAdjust="spacingAndGlyphs">DT40</text>
<line x1="682.5" y1="1374.5" x2="733" y2="1374.5" stroke="#BE1E24" stroke-width="2.8" stroke-linecap="butt"/>
<rect x="701.12" y="1368.12" width="12.75" height="12.75" fill="#BE1E24"/>
<text x="742.5" y="1380.75" font-size="25" text-anchor="start" font-weight="bold" font-style="normal" fill="#000" textLength="109" lengthAdjust="spacingAndGlyphs"><tspan font-style="italic">asf1a</tspan><tspan font-style="italic" font-size="17.5" dy="-9.25">-/-/+</tspan></text>
<line x1="682.5" y1="1423.75" x2="733" y2="1423.75" stroke="#6AAE48" stroke-width="2.8" stroke-linecap="butt"/>
<polygon points="707.5,1416.36 714.22,1429.66 700.78,1429.66" fill="#6AAE48"/>
<text x="742.5" y="1430" font-size="25" text-anchor="start" font-weight="bold" font-style="normal" fill="#000" textLength="88" lengthAdjust="spacingAndGlyphs"><tspan font-style="italic">shld2</tspan><tspan font-style="italic" font-size="17.5" dy="-9.25">-/-</tspan></text>
<line x1="682.5" y1="1475" x2="733" y2="1475" stroke="#7030A0" stroke-width="2.8" stroke-linecap="butt"/>
<circle cx="707.5" cy="1475" r="6.29" fill="#7030A0"/>
<text x="742.5" y="1481.25" font-size="25" text-anchor="start" font-weight="bold" font-style="normal" fill="#000" textLength="196" lengthAdjust="spacingAndGlyphs"><tspan font-style="italic">asf1a</tspan><tspan font-style="italic" font-size="17.5" dy="-9.25">-/-/+</tspan><tspan font-style="italic" dy="9.25">shld2</tspan><tspan font-style="italic" font-size="17.5" dy="-9.25">-/-</tspan></text>
<text x="891.9" y="1564.5" font-size="32" text-anchor="middle" font-weight="bold" font-style="normal" fill="#000" textLength="218.75" lengthAdjust="spacingAndGlyphs">Etoposide (nM)</text>
<text x="607" y="1297" font-size="32" text-anchor="middle" font-weight="bold" font-style="normal" fill="#000" textLength="166.25" lengthAdjust="spacingAndGlyphs" transform="rotate(-90 607 1297)">Survival (%)</text>
<rect x="1197" y="1130" width="401" height="372" fill="none" stroke="#000" stroke-width="2.6"/>
<line x1="1188.5" y1="1134.5" x2="1197" y2="1134.5" stroke="#000" stroke-width="2.6" stroke-linecap="butt"/>
<g transform="translate(1189.5 1143.34) scale(0.94 1)"><text x="0" y="0" font-size="26.4" text-anchor="end" font-weight="bold" font-style="normal" fill="#000">100</text></g>
<line x1="1188.5" y1="1196.25" x2="1197" y2="1196.25" stroke="#000" stroke-width="2.6" stroke-linecap="butt"/>
<g transform="translate(1189.5 1205.09) scale(0.94 1)"><text x="0" y="0" font-size="26.4" text-anchor="end" font-weight="bold" font-style="normal" fill="#000">10</text></g>
<line x1="1188.5" y1="1257.5" x2="1197" y2="1257.5" stroke="#000" stroke-width="2.6" stroke-linecap="butt"/>
<g transform="translate(1189.5 1266.34) scale(0.94 1)"><text x="0" y="0" font-size="26.4" text-anchor="end" font-weight="bold" font-style="normal" fill="#000">1</text></g>
<line x1="1188.5" y1="1318.75" x2="1197" y2="1318.75" stroke="#000" stroke-width="2.6" stroke-linecap="butt"/>
<g transform="translate(1189.5 1327.59) scale(0.94 1)"><text x="0" y="0" font-size="26.4" text-anchor="end" font-weight="bold" font-style="normal" fill="#000">0.1</text></g>
<line x1="1188.5" y1="1380" x2="1197" y2="1380" stroke="#000" stroke-width="2.6" stroke-linecap="butt"/>
<g transform="translate(1189.5 1388.84) scale(0.94 1)"><text x="0" y="0" font-size="26.4" text-anchor="end" font-weight="bold" font-style="normal" fill="#000">0.01</text></g>
<line x1="1188.5" y1="1441.25" x2="1197" y2="1441.25" stroke="#000" stroke-width="2.6" stroke-linecap="butt"/>
<g transform="translate(1189.5 1450.09) scale(0.94 1)"><text x="0" y="0" font-size="26.4" text-anchor="end" font-weight="bold" font-style="normal" fill="#000">0.001</text></g>
<line x1="1188.5" y1="1502" x2="1197" y2="1502" stroke="#000" stroke-width="2.6" stroke-linecap="butt"/>
<g transform="translate(1189.5 1508.84) scale(0.94 1)"><text x="0" y="0" font-size="26.4" text-anchor="end" font-weight="bold" font-style="normal" fill="#000">0.0001</text></g>
<line x1="1197" y1="1502" x2="1197" y2="1510.5" stroke="#000" stroke-width="2.6" stroke-linecap="butt"/>
<g transform="translate(1197 1536.34) scale(0.94 1)"><text x="0" y="0" font-size="26.4" text-anchor="middle" font-weight="bold" font-style="normal" fill="#000">0</text></g>
<line x1="1293.75" y1="1502" x2="1293.75" y2="1510.5" stroke="#000" stroke-width="2.6" stroke-linecap="butt"/>
<g transform="translate(1293.75 1536.34) scale(0.94 1)"><text x="0" y="0" font-size="26.4" text-anchor="middle" font-weight="bold" font-style="normal" fill="#000">400</text></g>
<line x1="1390.5" y1="1502" x2="1390.5" y2="1510.5" stroke="#000" stroke-width="2.6" stroke-linecap="butt"/>
<g transform="translate(1390.5 1536.34) scale(0.94 1)"><text x="0" y="0" font-size="26.4" text-anchor="middle" font-weight="bold" font-style="normal" fill="#000">800</text></g>
<line x1="1488.6" y1="1502" x2="1488.6" y2="1510.5" stroke="#000" stroke-width="2.6" stroke-linecap="butt"/>
<g transform="translate(1488.6 1536.34) scale(0.94 1)"><text x="0" y="0" font-size="26.4" text-anchor="middle" font-weight="bold" font-style="normal" fill="#000">1200</text></g>
<line x1="1585.9" y1="1502" x2="1585.9" y2="1510.5" stroke="#000" stroke-width="2.6" stroke-linecap="butt"/>
<g transform="translate(1585.9 1536.34) scale(0.94 1)"><text x="0" y="0" font-size="26.4" text-anchor="middle" font-weight="bold" font-style="normal" fill="#000">1600</text></g>
<line x1="1293.75" y1="1199.5" x2="1293.75" y2="1218.75" stroke="#595959" stroke-width="2.8" stroke-linecap="butt"/>
<line x1="1285.25" y1="1199.5" x2="1302.25" y2="1199.5" stroke="#595959" stroke-width="2.8" stroke-linecap="butt"/>
<line x1="1285.25" y1="1218.75" x2="1302.25" y2="1218.75" stroke="#595959" stroke-width="2.8" stroke-linecap="butt"/>
<line x1="1293.75" y1="1283.75" x2="1293.75" y2="1297.5" stroke="#595959" stroke-width="2.8" stroke-linecap="butt"/>
<line x1="1285.25" y1="1283.75" x2="1302.25" y2="1283.75" stroke="#595959" stroke-width="2.8" stroke-linecap="butt"/>
<line x1="1285.25" y1="1297.5" x2="1302.25" y2="1297.5" stroke="#595959" stroke-width="2.8" stroke-linecap="butt"/>
<line x1="1488.6" y1="1440" x2="1488.6" y2="1459.5" stroke="#595959" stroke-width="2.8" stroke-linecap="butt"/>
<line x1="1480.1" y1="1440" x2="1497.1" y2="1440" stroke="#595959" stroke-width="2.8" stroke-linecap="butt"/>
<line x1="1480.1" y1="1459.5" x2="1497.1" y2="1459.5" stroke="#595959" stroke-width="2.8" stroke-linecap="butt"/>
<line x1="1488.6" y1="1422" x2="1488.6" y2="1428.7" stroke="#595959" stroke-width="2.8" stroke-linecap="butt"/>
<line x1="1480.1" y1="1422" x2="1497.1" y2="1422" stroke="#595959" stroke-width="2.8" stroke-linecap="butt"/>
<line x1="1480.1" y1="1428.7" x2="1497.1" y2="1428.7" stroke="#595959" stroke-width="2.8" stroke-linecap="butt"/>
<line x1="1390.5" y1="1344" x2="1390.5" y2="1358" stroke="#595959" stroke-width="2.8" stroke-linecap="butt"/>
<line x1="1382" y1="1344" x2="1399" y2="1344" stroke="#595959" stroke-width="2.8" stroke-linecap="butt"/>
<line x1="1382" y1="1358" x2="1399" y2="1358" stroke="#595959" stroke-width="2.8" stroke-linecap="butt"/>
<line x1="1293.75" y1="1182" x2="1293.75" y2="1192" stroke="#595959" stroke-width="2.8" stroke-linecap="butt"/>
<line x1="1285.25" y1="1182" x2="1302.25" y2="1182" stroke="#595959" stroke-width="2.8" stroke-linecap="butt"/>
<line x1="1285.25" y1="1192" x2="1302.25" y2="1192" stroke="#595959" stroke-width="2.8" stroke-linecap="butt"/>
<line x1="1390.5" y1="1214" x2="1390.5" y2="1223" stroke="#595959" stroke-width="2.8" stroke-linecap="butt"/>
<line x1="1382" y1="1214" x2="1399" y2="1214" stroke="#595959" stroke-width="2.8" stroke-linecap="butt"/>
<line x1="1382" y1="1223" x2="1399" y2="1223" stroke="#595959" stroke-width="2.8" stroke-linecap="butt"/>
<line x1="1390.5" y1="1248" x2="1390.5" y2="1257" stroke="#595959" stroke-width="2.8" stroke-linecap="butt"/>
<line x1="1382" y1="1248" x2="1399" y2="1248" stroke="#595959" stroke-width="2.8" stroke-linecap="butt"/>
<line x1="1382" y1="1257" x2="1399" y2="1257" stroke="#595959" stroke-width="2.8" stroke-linecap="butt"/>
<line x1="1390.5" y1="1310" x2="1390.5" y2="1318" stroke="#595959" stroke-width="2.8" stroke-linecap="butt"/>
<line x1="1382" y1="1310" x2="1399" y2="1310" stroke="#595959" stroke-width="2.8" stroke-linecap="butt"/>
<line x1="1382" y1="1318" x2="1399" y2="1318" stroke="#595959" stroke-width="2.8" stroke-linecap="butt"/>
<line x1="1293.75" y1="1248" x2="1293.75" y2="1256" stroke="#595959" stroke-width="2.8" stroke-linecap="butt"/>
<line x1="1285.25" y1="1248" x2="1302.25" y2="1248" stroke="#595959" stroke-width="2.8" stroke-linecap="butt"/>
<line x1="1285.25" y1="1256" x2="1302.25" y2="1256" stroke="#595959" stroke-width="2.8" stroke-linecap="butt"/>
<line x1="1488.6" y1="1300" x2="1488.6" y2="1309" stroke="#595959" stroke-width="2.8" stroke-linecap="butt"/>
<line x1="1480.1" y1="1300" x2="1497.1" y2="1300" stroke="#595959" stroke-width="2.8" stroke-linecap="butt"/>
<line x1="1480.1" y1="1309" x2="1497.1" y2="1309" stroke="#595959" stroke-width="2.8" stroke-linecap="butt"/>
<line x1="1488.6" y1="1330" x2="1488.6" y2="1338" stroke="#595959" stroke-width="2.8" stroke-linecap="butt"/>
<line x1="1480.1" y1="1330" x2="1497.1" y2="1330" stroke="#595959" stroke-width="2.8" stroke-linecap="butt"/>
<line x1="1480.1" y1="1338" x2="1497.1" y2="1338" stroke="#595959" stroke-width="2.8" stroke-linecap="butt"/>
<polyline points="1197,1134.5 1293.75,1187 1390.5,1218.75 1488.6,1304.8 1585.9,1355.1" fill="none" stroke="#4F81BD" stroke-width="5.2" stroke-linejoin="round"/>
<polygon points="1197,1125.5 1206,1134.5 1197,1143.5 1188,1134.5" fill="#4F81BD" stroke="#4F81BD" stroke-width="0.8" stroke-linejoin="round"/>
<polygon points="1293.75,1178 1302.75,1187 1293.75,1196 1284.75,1187" fill="#4F81BD" stroke="#4F81BD" stroke-width="0.8" stroke-linejoin="round"/>
<polygon points="1390.5,1209.75 1399.5,1218.75 1390.5,1227.75 1381.5,1218.75" fill="#4F81BD" stroke="#4F81BD" stroke-width="0.8" stroke-linejoin="round"/>
<polygon points="1488.6,1295.8 1497.6,1304.8 1488.6,1313.8 1479.6,1304.8" fill="#4F81BD" stroke="#4F81BD" stroke-width="0.8" stroke-linejoin="round"/>
<polygon points="1585.9,1346.1 1594.9,1355.1 1585.9,1364.1 1576.9,1355.1" fill="#4F81BD" stroke="#4F81BD" stroke-width="0.8" stroke-linejoin="round"/>
<polyline points="1197,1134.5 1293.75,1208 1390.5,1252.5 1488.6,1334 1585.9,1406.9" fill="none" stroke="#C0504D" stroke-width="5.2" stroke-linejoin="round"/>
<rect x="1189.5" y="1127" width="15" height="15" fill="#C0504D"/>
<rect x="1286.25" y="1200.5" width="15" height="15" fill="#C0504D"/>
<rect x="1383" y="1245" width="15" height="15" fill="#C0504D"/>
<rect x="1481.1" y="1326.5" width="15" height="15" fill="#C0504D"/>
<rect x="1578.4" y="1399.4" width="15" height="15" fill="#C0504D"/>
<polyline points="1197,1134.5 1293.75,1252.5 1390.5,1313.75 1488.6,1425.7" fill="none" stroke="#9BBB59" stroke-width="5.2" stroke-linejoin="round"/>
<polygon points="1197,1125.81 1204.9,1141.45 1189.1,1141.45" fill="#9BBB59"/>
<polygon points="1293.75,1243.81 1301.65,1259.45 1285.85,1259.45" fill="#9BBB59"/>
<polygon points="1390.5,1305.06 1398.4,1320.7 1382.6,1320.7" fill="#9BBB59"/>
<polygon points="1488.6,1417.01 1496.5,1432.65 1480.7,1432.65" fill="#9BBB59"/>
<polyline points="1197,1134.5 1293.75,1289.5 1390.5,1351.25 1488.6,1448.2" fill="none" stroke="#8064A2" stroke-width="5.2" stroke-linejoin="round"/>
<circle cx="1197" cy="1134.5" r="7.4" fill="#8064A2"/>
<circle cx="1293.75" cy="1289.5" r="7.4" fill="#8064A2"/>
<circle cx="1390.5" cy="1351.25" r="7.4" fill="#8064A2"/>
<circle cx="1488.6" cy="1448.2" r="7.4" fill="#8064A2"/>
<polyline points="1302,1252 1312.5,1252 1312.5,1293.75 1302,1293.75" fill="none" stroke="#000" stroke-width="2.4" stroke-linejoin="miter"/>
<polyline points="1401.25,1312.8 1412.8,1312.8 1412.8,1355.9 1401.25,1355.9" fill="none" stroke="#000" stroke-width="2.4" stroke-linejoin="miter"/>
<polyline points="1499.5,1428.7 1511,1428.7 1511,1449.7 1499.5,1449.7" fill="none" stroke="#000" stroke-width="2.4" stroke-linejoin="miter"/>
<text x="1318.79" y="1288.19" font-size="23.7" font-family="DejaVu Sans, sans-serif" font-weight="normal" letter-spacing="2.72" stroke="#000" stroke-width="0.45">**</text>
<text x="1417.29" y="1346.99" font-size="23.7" font-family="DejaVu Sans, sans-serif" font-weight="normal" letter-spacing="3.22" stroke="#000" stroke-width="0.45">**</text>
<text x="1517.89" y="1452.19" font-size="23.7" font-family="DejaVu Sans, sans-serif" font-weight="normal" letter-spacing="3.12" stroke="#000" stroke-width="0.45">**</text>
<text x="1429.4" y="1566" font-size="32" text-anchor="middle" font-weight="bold" font-style="normal" fill="#000" textLength="188.75" lengthAdjust="spacingAndGlyphs">ICRF193 (nM)</text>
<g transform="translate(15.9 1741) scale(0.88 1)"><text x="0" y="0" font-size="66" text-anchor="start" font-weight="bold" font-style="normal" fill="#000">h</text></g>
<rect x="115" y="1717.5" width="401.25" height="372" fill="none" stroke="#000" stroke-width="2.6"/>
<line x1="106.5" y1="1731.25" x2="115" y2="1731.25" stroke="#000" stroke-width="2.6" stroke-linecap="butt"/>
<g transform="translate(102.5 1740.84) scale(0.94 1)"><text x="0" y="0" font-size="26.4" text-anchor="end" font-weight="bold" font-style="normal" fill="#000">100</text></g>
<line x1="106.5" y1="1910.5" x2="115" y2="1910.5" stroke="#000" stroke-width="2.6" stroke-linecap="butt"/>
<g transform="translate(102.5 1919.34) scale(0.94 1)"><text x="0" y="0" font-size="26.4" text-anchor="end" font-weight="bold" font-style="normal" fill="#000">10</text></g>
<line x1="106.5" y1="2089.5" x2="115" y2="2089.5" stroke="#000" stroke-width="2.6" stroke-linecap="butt"/>
<g transform="translate(102.5 2098.34) scale(0.94 1)"><text x="0" y="0" font-size="26.4" text-anchor="end" font-weight="bold" font-style="normal" fill="#000">1</text></g>
<line x1="115" y1="2089.5" x2="115" y2="2098" stroke="#000" stroke-width="2.6" stroke-linecap="butt"/>
<g transform="translate(115 2116.34) scale(0.94 1)"><text x="0" y="0" font-size="26.4" text-anchor="middle" font-weight="bold" font-style="normal" fill="#000">0</text></g>
<line x1="212" y1="2089.5" x2="212" y2="2098" stroke="#000" stroke-width="2.6" stroke-linecap="butt"/>
<g transform="translate(212 2116.34) scale(0.94 1)"><text x="0" y="0" font-size="26.4" text-anchor="middle" font-weight="bold" font-style="normal" fill="#000">80</text></g>
<line x1="309.5" y1="2089.5" x2="309.5" y2="2098" stroke="#000" stroke-width="2.6" stroke-linecap="butt"/>
<g transform="translate(309.5 2116.34) scale(0.94 1)"><text x="0" y="0" font-size="26.4" text-anchor="middle" font-weight="bold" font-style="normal" fill="#000">160</text></g>
<line x1="407" y1="2089.5" x2="407" y2="2098" stroke="#000" stroke-width="2.6" stroke-linecap="butt"/>
<g transform="translate(407 2116.34) scale(0.94 1)"><text x="0" y="0" font-size="26.4" text-anchor="middle" font-weight="bold" font-style="normal" fill="#000">240</text></g>
<line x1="505" y1="2089.5" x2="505" y2="2098" stroke="#000" stroke-width="2.6" stroke-linecap="butt"/>
<g transform="translate(505 2116.34) scale(0.94 1)"><text x="0" y="0" font-size="26.4" text-anchor="middle" font-weight="bold" font-style="normal" fill="#000">320</text></g>
<line x1="212" y1="1722.5" x2="212" y2="1767.5" stroke="#595959" stroke-width="2.8" stroke-linecap="butt"/>
<line x1="203.5" y1="1722.5" x2="220.5" y2="1722.5" stroke="#595959" stroke-width="2.8" stroke-linecap="butt"/>
<line x1="203.5" y1="1767.5" x2="220.5" y2="1767.5" stroke="#595959" stroke-width="2.8" stroke-linecap="butt"/>
<line x1="309.5" y1="1740" x2="309.5" y2="1754.5" stroke="#595959" stroke-width="2.8" stroke-linecap="butt"/>
<line x1="301" y1="1740" x2="318" y2="1740" stroke="#595959" stroke-width="2.8" stroke-linecap="butt"/>
<line x1="301" y1="1754.5" x2="318" y2="1754.5" stroke="#595959" stroke-width="2.8" stroke-linecap="butt"/>
<line x1="309.5" y1="1796" x2="309.5" y2="1825.5" stroke="#595959" stroke-width="2.8" stroke-linecap="butt"/>
<line x1="301" y1="1796" x2="318" y2="1796" stroke="#595959" stroke-width="2.8" stroke-linecap="butt"/>
<line x1="301" y1="1825.5" x2="318" y2="1825.5" stroke="#595959" stroke-width="2.8" stroke-linecap="butt"/>
<line x1="309.5" y1="1823.75" x2="309.5" y2="1841.25" stroke="#595959" stroke-width="2.8" stroke-linecap="butt"/>
<line x1="301" y1="1823.75" x2="318" y2="1823.75" stroke="#595959" stroke-width="2.8" stroke-linecap="butt"/>
<line x1="301" y1="1841.25" x2="318" y2="1841.25" stroke="#595959" stroke-width="2.8" stroke-linecap="butt"/>
<line x1="407" y1="1742.5" x2="407" y2="1763.75" stroke="#595959" stroke-width="2.8" stroke-linecap="butt"/>
<line x1="398.5" y1="1742.5" x2="415.5" y2="1742.5" stroke="#595959" stroke-width="2.8" stroke-linecap="butt"/>
<line x1="398.5" y1="1763.75" x2="415.5" y2="1763.75" stroke="#595959" stroke-width="2.8" stroke-linecap="butt"/>
<line x1="407" y1="1828" x2="407" y2="1845" stroke="#595959" stroke-width="2.8" stroke-linecap="butt"/>
<line x1="398.5" y1="1828" x2="415.5" y2="1828" stroke="#595959" stroke-width="2.8" stroke-linecap="butt"/>
<line x1="398.5" y1="1845" x2="415.5" y2="1845" stroke="#595959" stroke-width="2.8" stroke-linecap="butt"/>
<line x1="407" y1="1887.5" x2="407" y2="1900.5" stroke="#595959" stroke-width="2.8" stroke-linecap="butt"/>
<line x1="398.5" y1="1887.5" x2="415.5" y2="1887.5" stroke="#595959" stroke-width="2.8" stroke-linecap="butt"/>
<line x1="398.5" y1="1900.5" x2="415.5" y2="1900.5" stroke="#595959" stroke-width="2.8" stroke-linecap="butt"/>
<line x1="505" y1="1795" x2="505" y2="1825.5" stroke="#595959" stroke-width="2.8" stroke-linecap="butt"/>
<line x1="496.5" y1="1795" x2="513.5" y2="1795" stroke="#595959" stroke-width="2.8" stroke-linecap="butt"/>
<line x1="496.5" y1="1825.5" x2="513.5" y2="1825.5" stroke="#595959" stroke-width="2.8" stroke-linecap="butt"/>
<line x1="505" y1="1952" x2="505" y2="1975.5" stroke="#595959" stroke-width="2.8" stroke-linecap="butt"/>
<line x1="496.5" y1="1952" x2="513.5" y2="1952" stroke="#595959" stroke-width="2.8" stroke-linecap="butt"/>
<line x1="496.5" y1="1975.5" x2="513.5" y2="1975.5" stroke="#595959" stroke-width="2.8" stroke-linecap="butt"/>
<line x1="505" y1="1997" x2="505" y2="2019.5" stroke="#595959" stroke-width="2.8" stroke-linecap="butt"/>
<line x1="496.5" y1="1997" x2="513.5" y2="1997" stroke="#595959" stroke-width="2.8" stroke-linecap="butt"/>
<line x1="496.5" y1="2019.5" x2="513.5" y2="2019.5" stroke="#595959" stroke-width="2.8" stroke-linecap="butt"/>
<line x1="505" y1="2038" x2="505" y2="2046" stroke="#595959" stroke-width="2.8" stroke-linecap="butt"/>
<line x1="496.5" y1="2038" x2="513.5" y2="2038" stroke="#595959" stroke-width="2.8" stroke-linecap="butt"/>
<line x1="496.5" y1="2046" x2="513.5" y2="2046" stroke="#595959" stroke-width="2.8" stroke-linecap="butt"/>
<polyline points="115,1731.25 212,1734.5 309.5,1747 407,1753.75 505,1809.5" fill="none" stroke="#4F81BD" stroke-width="5.2" stroke-linejoin="round"/>
<polygon points="115,1722.25 124,1731.25 115,1740.25 106,1731.25" fill="#4F81BD" stroke="#4F81BD" stroke-width="0.8" stroke-linejoin="round"/>
<polygon points="212,1725.5 221,1734.5 212,1743.5 203,1734.5" fill="#4F81BD" stroke="#4F81BD" stroke-width="0.8" stroke-linejoin="round"/>
<polygon points="309.5,1738 318.5,1747 309.5,1756 300.5,1747" fill="#4F81BD" stroke="#4F81BD" stroke-width="0.8" stroke-linejoin="round"/>
<polygon points="407,1744.75 416,1753.75 407,1762.75 398,1753.75" fill="#4F81BD" stroke="#4F81BD" stroke-width="0.8" stroke-linejoin="round"/>
<polygon points="505,1800.5 514,1809.5 505,1818.5 496,1809.5" fill="#4F81BD" stroke="#4F81BD" stroke-width="0.8" stroke-linejoin="round"/>
<polyline points="115,1731.25 212,1746.25 309.5,1807.5 407,1835 505,1963.75" fill="none" stroke="#C0504D" stroke-width="5.2" stroke-linejoin="round"/>
<rect x="107.5" y="1723.75" width="15" height="15" fill="#C0504D"/>
<rect x="204.5" y="1738.75" width="15" height="15" fill="#C0504D"/>
<rect x="302" y="1800" width="15" height="15" fill="#C0504D"/>
<rect x="399.5" y="1827.5" width="15" height="15" fill="#C0504D"/>
<rect x="497.5" y="1956.25" width="15" height="15" fill="#C0504D"/>
<polyline points="115,1731.25 212,1745 309.5,1809.5 407,1852.5 505,2008.75" fill="none" stroke="#9BBB59" stroke-width="5.2" stroke-linejoin="round"/>
<polygon points="115,1722.56 122.9,1738.2 107.1,1738.2" fill="#9BBB59"/>
<polygon points="212,1736.31 219.9,1751.95 204.1,1751.95" fill="#9BBB59"/>
<polygon points="309.5,1800.81 317.4,1816.45 301.6,1816.45" fill="#9BBB59"/>
<polygon points="407,1843.81 414.9,1859.45 399.1,1859.45" fill="#9BBB59"/>
<polygon points="505,2000.06 512.9,2015.7 497.1,2015.7" fill="#9BBB59"/>
<polyline points="115,1731.25 212,1737.5 309.5,1832.5 407,1893.75 505,2042" fill="none" stroke="#8064A2" stroke-width="5.2" stroke-linejoin="round"/>
<circle cx="115" cy="1731.25" r="7.4" fill="#8064A2"/>
<circle cx="212" cy="1737.5" r="7.4" fill="#8064A2"/>
<circle cx="309.5" cy="1832.5" r="7.4" fill="#8064A2"/>
<circle cx="407" cy="1893.75" r="7.4" fill="#8064A2"/>
<circle cx="505" cy="2042" r="7.4" fill="#8064A2"/>
<line x1="135" y1="1887.5" x2="185.5" y2="1887.5" stroke="#4A7DC4" stroke-width="2.8" stroke-linecap="butt"/>
<polygon points="159.5,1879.85 167.15,1887.5 159.5,1895.15 151.85,1887.5" fill="#4A7DC4" stroke="#4A7DC4" stroke-width="0.68" stroke-linejoin="round"/>
<text x="196.25" y="1893.75" font-size="25" text-anchor="start" font-weight="bold" font-style="normal" fill="#000" textLength="62.5" lengthAdjust="spacingAndGlyphs">DT40</text>
<line x1="135" y1="1937" x2="185.5" y2="1937" stroke="#BE1E24" stroke-width="2.8" stroke-linecap="butt"/>
<rect x="153.12" y="1930.62" width="12.75" height="12.75" fill="#BE1E24"/>
<text x="196.25" y="1943.25" font-size="25" text-anchor="start" font-weight="bold" font-style="normal" fill="#000" textLength="64" lengthAdjust="spacingAndGlyphs"><tspan font-style="italic">rif1</tspan><tspan font-style="italic" font-size="17.5" dy="-9.25">-/-</tspan></text>
<line x1="135" y1="1988.75" x2="185.5" y2="1988.75" stroke="#6AAE48" stroke-width="2.8" stroke-linecap="butt"/>
<polygon points="159.5,1981.36 166.22,1994.66 152.78,1994.66" fill="#6AAE48"/>
<text x="196.25" y="1995" font-size="25" text-anchor="start" font-weight="bold" font-style="normal" fill="#000" textLength="197" lengthAdjust="spacingAndGlyphs"><tspan font-style="italic">asf1a</tspan><tspan font-style="italic" font-size="17.5" dy="-9.25">-/-/+</tspan><tspan font-style="italic" dy="9.25">shld2</tspan><tspan font-style="italic" font-size="17.5" dy="-9.25">-/-</tspan></text>
<line x1="135" y1="2042.5" x2="185.5" y2="2042.5" stroke="#7030A0" stroke-width="2.8" stroke-linecap="butt"/>
<circle cx="159.5" cy="2042.5" r="6.29" fill="#7030A0"/>
<text x="196.25" y="2048.75" font-size="25" text-anchor="start" font-weight="bold" font-style="normal" fill="#000" textLength="262" lengthAdjust="spacingAndGlyphs"><tspan font-style="italic">rif1</tspan><tspan font-style="italic" font-size="17.5" dy="-9.25">-/-</tspan><tspan font-style="italic" dy="9.25">asf1a</tspan><tspan font-style="italic" font-size="17.5" dy="-9.25">-/-/+</tspan><tspan font-style="italic" dy="9.25">shld2</tspan><tspan font-style="italic" font-size="17.5" dy="-9.25">-/-</tspan></text>
<text x="330" y="2150" font-size="32" text-anchor="middle" font-weight="bold" font-style="normal" fill="#000" textLength="218" lengthAdjust="spacingAndGlyphs">Etoposide (nM)</text>
<text x="62" y="1928" font-size="32" text-anchor="middle" font-weight="bold" font-style="normal" fill="#000" textLength="166" lengthAdjust="spacingAndGlyphs" transform="rotate(-90 62 1928)">Survival (%)</text>
<rect x="646.25" y="1717.5" width="402" height="372" fill="none" stroke="#000" stroke-width="2.6"/>
<line x1="637.75" y1="1722" x2="646.25" y2="1722" stroke="#000" stroke-width="2.6" stroke-linecap="butt"/>
<g transform="translate(630 1730.84) scale(0.94 1)"><text x="0" y="0" font-size="26.4" text-anchor="end" font-weight="bold" font-style="normal" fill="#000">100</text></g>
<line x1="637.75" y1="1783" x2="646.25" y2="1783" stroke="#000" stroke-width="2.6" stroke-linecap="butt"/>
<g transform="translate(630 1791.84) scale(0.94 1)"><text x="0" y="0" font-size="26.4" text-anchor="end" font-weight="bold" font-style="normal" fill="#000">10</text></g>
<line x1="637.75" y1="1844.5" x2="646.25" y2="1844.5" stroke="#000" stroke-width="2.6" stroke-linecap="butt"/>
<g transform="translate(630 1853.34) scale(0.94 1)"><text x="0" y="0" font-size="26.4" text-anchor="end" font-weight="bold" font-style="normal" fill="#000">1</text></g>
<line x1="637.75" y1="1905.75" x2="646.25" y2="1905.75" stroke="#000" stroke-width="2.6" stroke-linecap="butt"/>
<g transform="translate(630 1914.59) scale(0.94 1)"><text x="0" y="0" font-size="26.4" text-anchor="end" font-weight="bold" font-style="normal" fill="#000">0.1</text></g>
<line x1="637.75" y1="1967" x2="646.25" y2="1967" stroke="#000" stroke-width="2.6" stroke-linecap="butt"/>
<g transform="translate(630 1975.84) scale(0.94 1)"><text x="0" y="0" font-size="26.4" text-anchor="end" font-weight="bold" font-style="normal" fill="#000">0.01</text></g>
<line x1="637.75" y1="2028" x2="646.25" y2="2028" stroke="#000" stroke-width="2.6" stroke-linecap="butt"/>
<g transform="translate(630 2036.84) scale(0.94 1)"><text x="0" y="0" font-size="26.4" text-anchor="end" font-weight="bold" font-style="normal" fill="#000">0.001</text></g>
<line x1="637.75" y1="2089.5" x2="646.25" y2="2089.5" stroke="#000" stroke-width="2.6" stroke-linecap="butt"/>
<g transform="translate(630 2095.84) scale(0.94 1)"><text x="0" y="0" font-size="26.4" text-anchor="end" font-weight="bold" font-style="normal" fill="#000">0.0001</text></g>
<line x1="646.25" y1="2089.5" x2="646.25" y2="2098" stroke="#000" stroke-width="2.6" stroke-linecap="butt"/>
<g transform="translate(646.25 2123.84) scale(0.94 1)"><text x="0" y="0" font-size="26.4" text-anchor="middle" font-weight="bold" font-style="normal" fill="#000">0</text></g>
<line x1="743.75" y1="2089.5" x2="743.75" y2="2098" stroke="#000" stroke-width="2.6" stroke-linecap="butt"/>
<g transform="translate(743.75 2123.84) scale(0.94 1)"><text x="0" y="0" font-size="26.4" text-anchor="middle" font-weight="bold" font-style="normal" fill="#000">400</text></g>
<line x1="841.25" y1="2089.5" x2="841.25" y2="2098" stroke="#000" stroke-width="2.6" stroke-linecap="butt"/>
<g transform="translate(841.25 2123.84) scale(0.94 1)"><text x="0" y="0" font-size="26.4" text-anchor="middle" font-weight="bold" font-style="normal" fill="#000">800</text></g>
<line x1="938.75" y1="2089.5" x2="938.75" y2="2098" stroke="#000" stroke-width="2.6" stroke-linecap="butt"/>
<g transform="translate(938.75 2123.84) scale(0.94 1)"><text x="0" y="0" font-size="26.4" text-anchor="middle" font-weight="bold" font-style="normal" fill="#000">1200</text></g>
<line x1="1035.75" y1="2089.5" x2="1035.75" y2="2098" stroke="#000" stroke-width="2.6" stroke-linecap="butt"/>
<g transform="translate(1035.75 2123.84) scale(0.94 1)"><text x="0" y="0" font-size="26.4" text-anchor="middle" font-weight="bold" font-style="normal" fill="#000">1600</text></g>
<line x1="1035.75" y1="2005" x2="1035.75" y2="2035" stroke="#595959" stroke-width="2.8" stroke-linecap="butt"/>
<line x1="1027.25" y1="2005" x2="1044.25" y2="2005" stroke="#595959" stroke-width="2.8" stroke-linecap="butt"/>
<line x1="1027.25" y1="2035" x2="1044.25" y2="2035" stroke="#595959" stroke-width="2.8" stroke-linecap="butt"/>
<line x1="1035.75" y1="2008" x2="1035.75" y2="2031" stroke="#595959" stroke-width="2.8" stroke-linecap="butt"/>
<line x1="1027.25" y1="2008" x2="1044.25" y2="2008" stroke="#595959" stroke-width="2.8" stroke-linecap="butt"/>
<line x1="1027.25" y1="2031" x2="1044.25" y2="2031" stroke="#595959" stroke-width="2.8" stroke-linecap="butt"/>
<line x1="938.75" y1="1890" x2="938.75" y2="1902" stroke="#595959" stroke-width="2.8" stroke-linecap="butt"/>
<line x1="930.25" y1="1890" x2="947.25" y2="1890" stroke="#595959" stroke-width="2.8" stroke-linecap="butt"/>
<line x1="930.25" y1="1902" x2="947.25" y2="1902" stroke="#595959" stroke-width="2.8" stroke-linecap="butt"/>
<line x1="938.75" y1="1980" x2="938.75" y2="1993" stroke="#595959" stroke-width="2.8" stroke-linecap="butt"/>
<line x1="930.25" y1="1980" x2="947.25" y2="1980" stroke="#595959" stroke-width="2.8" stroke-linecap="butt"/>
<line x1="930.25" y1="1993" x2="947.25" y2="1993" stroke="#595959" stroke-width="2.8" stroke-linecap="butt"/>
<line x1="841.25" y1="1818" x2="841.25" y2="1829" stroke="#595959" stroke-width="2.8" stroke-linecap="butt"/>
<line x1="832.75" y1="1818" x2="849.75" y2="1818" stroke="#595959" stroke-width="2.8" stroke-linecap="butt"/>
<line x1="832.75" y1="1829" x2="849.75" y2="1829" stroke="#595959" stroke-width="2.8" stroke-linecap="butt"/>
<line x1="841.25" y1="1900" x2="841.25" y2="1912" stroke="#595959" stroke-width="2.8" stroke-linecap="butt"/>
<line x1="832.75" y1="1900" x2="849.75" y2="1900" stroke="#595959" stroke-width="2.8" stroke-linecap="butt"/>
<line x1="832.75" y1="1912" x2="849.75" y2="1912" stroke="#595959" stroke-width="2.8" stroke-linecap="butt"/>
<line x1="743.75" y1="1767" x2="743.75" y2="1776" stroke="#595959" stroke-width="2.8" stroke-linecap="butt"/>
<line x1="735.25" y1="1767" x2="752.25" y2="1767" stroke="#595959" stroke-width="2.8" stroke-linecap="butt"/>
<line x1="735.25" y1="1776" x2="752.25" y2="1776" stroke="#595959" stroke-width="2.8" stroke-linecap="butt"/>
<line x1="743.75" y1="1820" x2="743.75" y2="1833" stroke="#595959" stroke-width="2.8" stroke-linecap="butt"/>
<line x1="735.25" y1="1820" x2="752.25" y2="1820" stroke="#595959" stroke-width="2.8" stroke-linecap="butt"/>
<line x1="735.25" y1="1833" x2="752.25" y2="1833" stroke="#595959" stroke-width="2.8" stroke-linecap="butt"/>
<polyline points="646.25,1722 743.75,1771.25 841.25,1823.75 938.75,1895 1035.75,1923" fill="none" stroke="#4F81BD" stroke-width="5.2" stroke-linejoin="round"/>
<polygon points="646.25,1713 655.25,1722 646.25,1731 637.25,1722" fill="#4F81BD" stroke="#4F81BD" stroke-width="0.8" stroke-linejoin="round"/>
<polygon points="743.75,1762.25 752.75,1771.25 743.75,1780.25 734.75,1771.25" fill="#4F81BD" stroke="#4F81BD" stroke-width="0.8" stroke-linejoin="round"/>
<polygon points="841.25,1814.75 850.25,1823.75 841.25,1832.75 832.25,1823.75" fill="#4F81BD" stroke="#4F81BD" stroke-width="0.8" stroke-linejoin="round"/>
<polygon points="938.75,1886 947.75,1895 938.75,1904 929.75,1895" fill="#4F81BD" stroke="#4F81BD" stroke-width="0.8" stroke-linejoin="round"/>
<polygon points="1035.75,1914 1044.75,1923 1035.75,1932 1026.75,1923" fill="#4F81BD" stroke="#4F81BD" stroke-width="0.8" stroke-linejoin="round"/>
<polyline points="646.25,1722 743.75,1828 841.25,1906.25 938.75,1986.25 1035.75,2020" fill="none" stroke="#C0504D" stroke-width="5.2" stroke-linejoin="round"/>
<rect x="638.75" y="1714.5" width="15" height="15" fill="#C0504D"/>
<rect x="736.25" y="1820.5" width="15" height="15" fill="#C0504D"/>
<rect x="833.75" y="1898.75" width="15" height="15" fill="#C0504D"/>
<rect x="931.25" y="1978.75" width="15" height="15" fill="#C0504D"/>
<rect x="1028.25" y="2012.5" width="15" height="15" fill="#C0504D"/>
<polyline points="646.25,1722 743.75,1820 841.25,1906.25 938.75,1982.5 1035.75,2015" fill="none" stroke="#9BBB59" stroke-width="5.2" stroke-linejoin="round"/>
<polygon points="646.25,1713.31 654.15,1728.95 638.35,1728.95" fill="#9BBB59"/>
<polygon points="743.75,1811.31 751.65,1826.95 735.85,1826.95" fill="#9BBB59"/>
<polygon points="841.25,1897.56 849.15,1913.2 833.35,1913.2" fill="#9BBB59"/>
<polygon points="938.75,1973.81 946.65,1989.45 930.85,1989.45" fill="#9BBB59"/>
<polygon points="1035.75,2006.31 1043.65,2021.95 1027.85,2021.95" fill="#9BBB59"/>
<polyline points="646.25,1722 743.75,1826.25 841.25,1906.25 938.75,1986.25 1035.75,2020" fill="none" stroke="#8064A2" stroke-width="5.2" stroke-linejoin="round"/>
<circle cx="646.25" cy="1722" r="7.4" fill="#8064A2"/>
<circle cx="743.75" cy="1826.25" r="7.4" fill="#8064A2"/>
<circle cx="841.25" cy="1906.25" r="7.4" fill="#8064A2"/>
<circle cx="938.75" cy="1986.25" r="7.4" fill="#8064A2"/>
<circle cx="1035.75" cy="2020" r="7.4" fill="#8064A2"/>
<text x="878.75" y="2154" font-size="32" text-anchor="middle" font-weight="bold" font-style="normal" fill="#000" textLength="190" lengthAdjust="spacingAndGlyphs">ICRF193 (nM)</text>
<g transform="translate(1235.9 1708.75) scale(1.23 1)"><text x="0" y="0" font-size="62.5" text-anchor="start" font-weight="bold" font-style="normal" fill="#000">i</text></g>
<text x="1368.25" y="1735" font-size="33" text-anchor="middle" font-weight="bold" font-style="normal" fill="#000" textLength="97.5" lengthAdjust="spacingAndGlyphs">53BP1</text>
<polygon points="1357,1742 1378.75,1742 1378.75,1780 1391.25,1780 1368,1803.75 1345,1780 1357,1780" fill="#4F81BD"/>
<text x="1371.6" y="1838.75" font-size="33" text-anchor="middle" font-weight="bold" font-style="normal" fill="#000" textLength="65.75" lengthAdjust="spacingAndGlyphs">RIF1</text>
<polygon points="1335.5,1850.5 1353.75,1861.25 1322,1917 1332.5,1923.75 1300,1932 1291.75,1900 1302.5,1906.25" fill="#4F81BD"/>
<polygon points="1402,1851.25 1384.25,1862 1416.25,1917.5 1405.5,1924.5 1437.5,1933 1445.75,1901.25 1435,1907" fill="#4F81BD"/>
<text x="1292.5" y="1968.75" font-size="33" text-anchor="middle" font-weight="bold" font-style="normal" fill="#000" textLength="126" lengthAdjust="spacingAndGlyphs">Shieldin</text>
<text x="1453.1" y="1974.5" font-size="33" text-anchor="middle" font-weight="bold" font-style="normal" fill="#000" textLength="76.25" lengthAdjust="spacingAndGlyphs">ASF1</text>
<polygon points="1300,1997 1318.75,1986.25 1351.25,2042.5 1362.5,2035.75 1353.75,2067.5 1322,2058.75 1332.5,2052.5" fill="#4F81BD"/>
<polygon points="1427.5,1985 1445.75,1995.5 1413.75,2051.25 1424.5,2058 1392,2066.25 1383.75,2034.5 1394.5,2040.75" fill="#4F81BD"/>
<text x="1378.5" y="2104" font-size="33" text-anchor="middle" font-weight="bold" font-style="normal" fill="#000" textLength="231.8" lengthAdjust="spacingAndGlyphs">End protection</text>
<text x="1379" y="2150" font-size="33" text-anchor="middle" font-weight="bold" font-style="normal" fill="#000" textLength="113" lengthAdjust="spacingAndGlyphs">&amp; NHEJ</text>
</svg>
</body></html>
